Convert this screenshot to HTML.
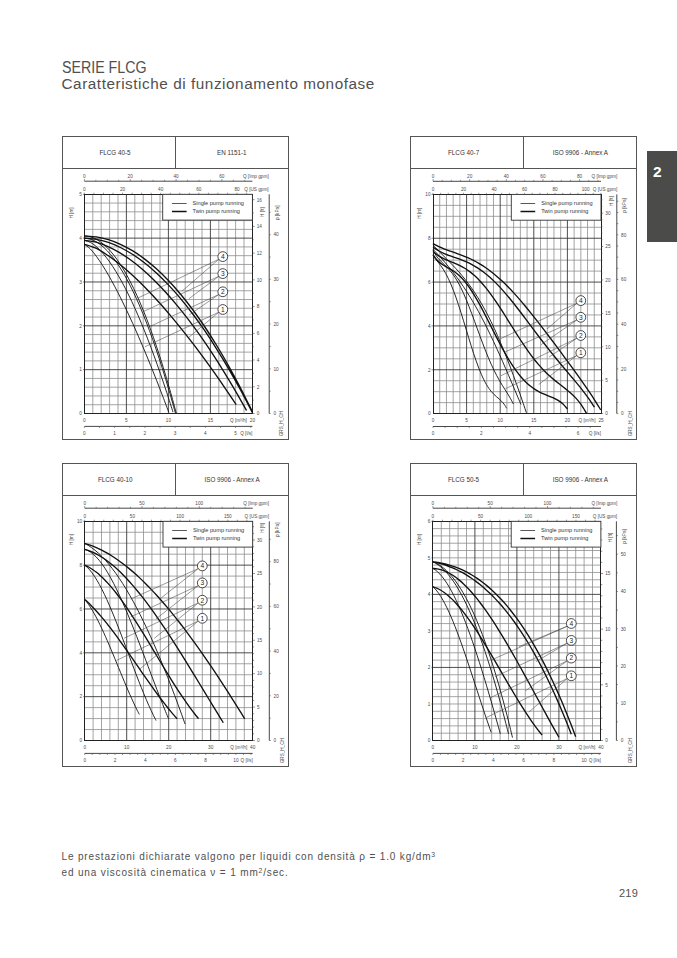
<!DOCTYPE html>
<html><head><meta charset="utf-8">
<style>
html,body{margin:0;padding:0;background:#fff;}
body{width:677px;height:958px;position:relative;overflow:hidden;font-family:"Liberation Sans",sans-serif;}
.t{position:absolute;white-space:nowrap;color:#505050;}
svg{position:absolute;left:0;top:0;}
svg text{font-family:"Liberation Sans",sans-serif;}
</style></head><body>
<div class="t" id="h1" style="left:61.5px;top:60.3px;font-size:15.8px;line-height:16px;letter-spacing:0px;transform:scaleX(0.9);transform-origin:0 0;">SERIE FLCG</div>
<div class="t" id="h2" style="left:61.5px;top:76px;font-size:15.3px;line-height:16px;letter-spacing:0.55px;">Caratteristiche di funzionamento monofase</div>
<div class="t" id="p1" style="left:61.5px;top:849px;font-size:10px;line-height:16px;letter-spacing:0.85px;">Le prestazioni dichiarate valgono per liquidi con densità ρ = 1.0 kg/dm<sup style="font-size:6.8px;vertical-align:3.5px;line-height:0">3</sup></div>
<div class="t" id="p2" style="left:61.5px;top:865px;font-size:10px;line-height:16px;letter-spacing:0.85px;">ed una viscosità cinematica ν = 1 mm<sup style="font-size:6.8px;vertical-align:3.5px;line-height:0">2</sup>/sec.</div>
<div class="t" id="pg" style="left:619px;top:885.5px;font-size:11px;line-height:14px;letter-spacing:0.2px;">219</div>
<div style="position:absolute;left:647px;top:151px;width:30px;height:90.5px;background:#4b4b49;"></div>
<div class="t" style="left:653px;top:164px;font-size:15.5px;line-height:16px;font-weight:bold;color:#fff;">2</div>
<svg width="677" height="958" viewBox="0 0 677 958">
<rect x="62.5" y="136.5" width="226" height="303" fill="none" stroke="#555" stroke-width="1"/>
<line x1="62.5" y1="168.5" x2="288.5" y2="168.5" stroke="#555" stroke-width="1"/>
<line x1="175.5" y1="136.5" x2="175.5" y2="168.5" stroke="#555" stroke-width="1"/>
<text x="115" y="154.5" font-size="6.3" text-anchor="middle" fill="#333">FLCG 40-5</text>
<text x="231.8" y="154.5" font-size="6.3" text-anchor="middle" fill="#333">EN 1151-1</text>
<path d="M92.8 194.3V413.5M101.2 194.3V413.5M109.6 194.3V413.5M118 194.3V413.5M134.8 194.3V413.5M143.2 194.3V413.5M151.6 194.3V413.5M160 194.3V413.5M176.8 194.3V413.5M185.2 194.3V413.5M193.6 194.3V413.5M202 194.3V413.5M218.8 194.3V413.5M227.2 194.3V413.5M235.6 194.3V413.5M244 194.3V413.5M84.4 404.73H252.4M84.4 395.96H252.4M84.4 387.2H252.4M84.4 378.43H252.4M84.4 360.89H252.4M84.4 352.12H252.4M84.4 343.36H252.4M84.4 334.59H252.4M84.4 317.05H252.4M84.4 308.28H252.4M84.4 299.52H252.4M84.4 290.75H252.4M84.4 273.21H252.4M84.4 264.44H252.4M84.4 255.68H252.4M84.4 246.91H252.4M84.4 229.37H252.4M84.4 220.6H252.4M84.4 211.84H252.4M84.4 203.07H252.4" stroke="#8e8e8e" stroke-width="0.8" fill="none"/>
<path d="M126.4 194.3V413.5M168.4 194.3V413.5M210.4 194.3V413.5M84.4 369.66H252.4M84.4 325.82H252.4M84.4 281.98H252.4M84.4 238.14H252.4" stroke="#3a3a3a" stroke-width="0.9" fill="none"/>
<rect x="84.5" y="194.5" width="168" height="219" fill="none" stroke="#222" stroke-width="1"/>
<rect x="162.7" y="194.3" width="89.7" height="25.8" fill="#fff" stroke="#333" stroke-width="0.9"/>
<line x1="171.9" y1="203.5" x2="186.6" y2="203.5" stroke="#222" stroke-width="0.75"/>
<line x1="171.9" y1="211.5" x2="186.6" y2="211.5" stroke="#111" stroke-width="1.5"/>
<text x="192.6" y="204.9" font-size="5.6" fill="#333">Single pump running</text>
<text x="192.6" y="212.5" font-size="5.6" fill="#333">Twin pump running</text>
<line x1="84.4" y1="181.2" x2="252.4" y2="181.2" stroke="#333" stroke-width="0.9"/>
<path d="M84.4 181.2V179M95.86 181.2V179.8M107.31 181.2V179.8M118.77 181.2V179.8M130.22 181.2V179M141.68 181.2V179.8M153.14 181.2V179.8M164.59 181.2V179.8M176.05 181.2V179M187.51 181.2V179.8M198.96 181.2V179.8M210.42 181.2V179.8M221.87 181.2V179M233.33 181.2V179.8M244.79 181.2V179.8" stroke="#555" stroke-width="0.6" fill="none"/>
<text x="84.4" y="177.7" font-size="4.7" text-anchor="middle" fill="#4a4a4a">0</text>
<text x="130.22" y="177.7" font-size="4.7" text-anchor="middle" fill="#4a4a4a">20</text>
<text x="176.05" y="177.7" font-size="4.7" text-anchor="middle" fill="#4a4a4a">40</text>
<text x="221.87" y="177.7" font-size="4.7" text-anchor="middle" fill="#4a4a4a">60</text>
<text x="268.7" y="177.7" font-size="4.7" text-anchor="end" fill="#4a4a4a">Q [Imp gpm]</text>
<path d="M84.4 194.3V192.7M93.94 194.3V192.7M103.48 194.3V192.7M113.02 194.3V192.7M122.56 194.3V192.7M132.1 194.3V192.7M141.64 194.3V192.7M151.17 194.3V192.7M160.71 194.3V192.7M170.25 194.3V192.7M179.79 194.3V192.7M189.33 194.3V192.7M198.87 194.3V192.7M208.41 194.3V192.7M217.95 194.3V192.7M227.49 194.3V192.7M237.03 194.3V192.7M246.57 194.3V192.7" stroke="#555" stroke-width="0.6" fill="none"/>
<text x="84.4" y="190.7" font-size="4.7" text-anchor="middle" fill="#4a4a4a">0</text>
<text x="122.56" y="190.7" font-size="4.7" text-anchor="middle" fill="#4a4a4a">20</text>
<text x="160.71" y="190.7" font-size="4.7" text-anchor="middle" fill="#4a4a4a">40</text>
<text x="198.87" y="190.7" font-size="4.7" text-anchor="middle" fill="#4a4a4a">60</text>
<text x="237.03" y="190.7" font-size="4.7" text-anchor="middle" fill="#4a4a4a">80</text>
<text x="268.7" y="190.7" font-size="4.7" text-anchor="end" fill="#4a4a4a">Q [US gpm]</text>
<text x="81.9" y="371.46" font-size="4.7" text-anchor="end" fill="#4a4a4a">1</text>
<line x1="82.9" y1="369.66" x2="84.4" y2="369.66" stroke="#333" stroke-width="0.6"/>
<text x="81.9" y="327.62" font-size="4.7" text-anchor="end" fill="#4a4a4a">2</text>
<line x1="82.9" y1="325.82" x2="84.4" y2="325.82" stroke="#333" stroke-width="0.6"/>
<text x="81.9" y="283.78" font-size="4.7" text-anchor="end" fill="#4a4a4a">3</text>
<line x1="82.9" y1="281.98" x2="84.4" y2="281.98" stroke="#333" stroke-width="0.6"/>
<text x="81.9" y="239.94" font-size="4.7" text-anchor="end" fill="#4a4a4a">4</text>
<line x1="82.9" y1="238.14" x2="84.4" y2="238.14" stroke="#333" stroke-width="0.6"/>
<text x="81.9" y="196.1" font-size="4.7" text-anchor="end" fill="#4a4a4a">5</text>
<line x1="82.9" y1="194.3" x2="84.4" y2="194.3" stroke="#333" stroke-width="0.6"/>
<text transform="translate(72.6 213) rotate(-90)" font-size="4.7" text-anchor="middle" fill="#4a4a4a">H [m]</text>
<path d="M252.4 413.5H254.6M252.4 400.14H253.8M252.4 386.78H254.6M252.4 373.41H253.8M252.4 360.05H254.6M252.4 346.69H253.8M252.4 333.33H254.6M252.4 319.96H253.8M252.4 306.6H254.6M252.4 293.24H253.8M252.4 279.88H254.6M252.4 266.51H253.8M252.4 253.15H254.6M252.4 239.79H253.8M252.4 226.43H254.6M252.4 213.06H253.8M252.4 199.7H254.6" stroke="#444" stroke-width="0.6" fill="none"/>
<text x="256.7" y="415.3" font-size="4.7" fill="#4a4a4a">0</text>
<text x="256.7" y="388.58" font-size="4.7" fill="#4a4a4a">2</text>
<text x="256.7" y="361.85" font-size="4.7" fill="#4a4a4a">4</text>
<text x="256.7" y="335.13" font-size="4.7" fill="#4a4a4a">6</text>
<text x="256.7" y="308.4" font-size="4.7" fill="#4a4a4a">8</text>
<text x="256.7" y="281.68" font-size="4.7" fill="#4a4a4a">10</text>
<text x="256.7" y="254.95" font-size="4.7" fill="#4a4a4a">12</text>
<text x="256.7" y="228.23" font-size="4.7" fill="#4a4a4a">14</text>
<text x="256.7" y="201.5" font-size="4.7" fill="#4a4a4a">16</text>
<text transform="translate(263.9 212.1) rotate(-90)" font-size="4.7" text-anchor="middle" fill="#4a4a4a">H [ft]</text>
<line x1="269.2" y1="194.3" x2="269.2" y2="413.5" stroke="#333" stroke-width="0.9"/>
<path d="M269.2 413.5H270.7M269.2 391.15H270.7M269.2 368.8H270.7M269.2 346.44H270.7M269.2 324.09H270.7M269.2 301.74H270.7M269.2 279.39H270.7M269.2 257.03H270.7M269.2 234.68H270.7M269.2 212.33H270.7" stroke="#444" stroke-width="0.6" fill="none"/>
<text x="273.5" y="415.3" font-size="4.7" fill="#4a4a4a">0</text>
<text x="273.5" y="370.6" font-size="4.7" fill="#4a4a4a">10</text>
<text x="273.5" y="325.89" font-size="4.7" fill="#4a4a4a">20</text>
<text x="273.5" y="281.19" font-size="4.7" fill="#4a4a4a">30</text>
<text x="273.5" y="236.48" font-size="4.7" fill="#4a4a4a">40</text>
<text transform="translate(278.7 212.8) rotate(-90)" font-size="4.7" text-anchor="middle" fill="#4a4a4a">p [kPa]</text>
<text x="84.4" y="421.8" font-size="4.7" text-anchor="middle" fill="#4a4a4a">0</text>
<text x="126.4" y="421.8" font-size="4.7" text-anchor="middle" fill="#4a4a4a">5</text>
<text x="168.4" y="421.8" font-size="4.7" text-anchor="middle" fill="#4a4a4a">10</text>
<text x="210.4" y="421.8" font-size="4.7" text-anchor="middle" fill="#4a4a4a">15</text>
<text x="252.4" y="421.8" font-size="4.7" text-anchor="middle" fill="#4a4a4a">20</text>
<text x="246.9" y="421.8" font-size="4.7" text-anchor="end" fill="#4a4a4a">Q [m³/h]</text>
<text x="81.9" y="415.3" font-size="4.7" text-anchor="end" fill="#4a4a4a">0</text>
<line x1="84.4" y1="426.4" x2="252.4" y2="426.4" stroke="#333" stroke-width="0.9"/>
<path d="M84.4 426.4V428M99.52 426.4V428M114.64 426.4V428M129.76 426.4V428M144.88 426.4V428M160 426.4V428M175.12 426.4V428M190.24 426.4V428M205.36 426.4V428M220.48 426.4V428M235.6 426.4V428M250.72 426.4V428" stroke="#555" stroke-width="0.6" fill="none"/>
<text x="84.4" y="435" font-size="4.7" text-anchor="middle" fill="#4a4a4a">0</text>
<text x="114.64" y="435" font-size="4.7" text-anchor="middle" fill="#4a4a4a">1</text>
<text x="144.88" y="435" font-size="4.7" text-anchor="middle" fill="#4a4a4a">2</text>
<text x="175.12" y="435" font-size="4.7" text-anchor="middle" fill="#4a4a4a">3</text>
<text x="205.36" y="435" font-size="4.7" text-anchor="middle" fill="#4a4a4a">4</text>
<text x="235.6" y="435" font-size="4.7" text-anchor="middle" fill="#4a4a4a">5</text>
<text x="252.4" y="435" font-size="4.7" text-anchor="end" fill="#4a4a4a">Q [l/s]</text>
<text transform="translate(283.3 436.2) rotate(-90)" font-size="4.6" fill="#4a4a4a">GRS_H_CH</text>
<path d="M84.4 244.28 C85.41 245.07 88.42 247.02 90.43 249.04 C92.44 251.07 94.45 253.72 96.46 256.43 C98.47 259.14 100.48 262.15 102.49 265.29 C104.5 268.42 106.51 271.78 108.52 275.26 C110.53 278.73 112.54 282.38 114.55 286.15 C116.56 289.91 118.57 293.82 120.58 297.83 C122.59 301.84 124.6 305.98 126.61 310.22 C128.62 314.45 130.63 318.81 132.64 323.24 C134.65 327.68 136.66 332.23 138.67 336.85 C140.68 341.48 142.69 346.2 144.7 351 C146.71 355.81 148.72 360.7 150.73 365.66 C152.74 370.62 154.75 375.67 156.76 380.79 C158.77 385.91 160.78 391.1 162.79 396.37 C164.8 401.63 167.82 409.7 168.82 412.37 M84.4 240.33 C85.46 240.7 88.62 241.39 90.73 242.54 C92.84 243.69 94.95 245.37 97.06 247.26 C99.17 249.15 101.28 251.39 103.39 253.86 C105.5 256.33 107.61 259.09 109.72 262.08 C111.83 265.06 113.94 268.31 116.05 271.76 C118.16 275.21 120.27 278.9 122.38 282.79 C124.49 286.67 126.6 290.78 128.71 295.08 C130.82 299.38 132.93 303.89 135.04 308.58 C137.15 313.27 139.26 318.15 141.37 323.22 C143.48 328.28 145.59 333.53 147.7 338.95 C149.81 344.37 151.92 349.98 154.03 355.75 C156.14 361.52 158.25 367.46 160.36 373.57 C162.47 379.67 164.58 385.95 166.69 392.38 C168.8 398.81 171.97 408.86 173.02 412.15 M84.4 238.14 C85.49 238.33 88.74 238.58 90.91 239.3 C93.08 240.03 95.25 241.12 97.42 242.49 C99.59 243.86 101.76 245.55 103.93 247.53 C106.1 249.51 108.27 251.8 110.44 254.37 C112.61 256.93 114.78 259.79 116.95 262.93 C119.12 266.07 121.29 269.5 123.46 273.2 C125.63 276.9 127.8 280.88 129.97 285.13 C132.14 289.38 134.31 293.9 136.48 298.7 C138.65 303.49 140.82 308.55 142.99 313.88 C145.16 319.21 147.33 324.81 149.5 330.67 C151.67 336.53 153.84 342.66 156.01 349.04 C158.18 355.42 160.35 362.07 162.52 368.98 C164.69 375.88 166.86 383.05 169.03 390.47 C171.2 397.89 174.46 409.66 175.54 413.5 M84.4 235.95 C85.5 236.12 88.78 236.32 90.97 236.98 C93.16 237.65 95.35 238.65 97.54 239.94 C99.73 241.24 101.92 242.85 104.11 244.75 C106.3 246.66 108.49 248.87 110.68 251.38 C112.87 253.89 115.06 256.69 117.25 259.79 C119.44 262.89 121.63 266.29 123.82 269.97 C126.01 273.66 128.2 277.63 130.39 281.9 C132.58 286.17 134.77 290.73 136.96 295.57 C139.15 300.41 141.34 305.55 143.53 310.96 C145.72 316.38 147.91 322.09 150.1 328.07 C152.29 334.06 154.48 340.33 156.67 346.89 C158.86 353.44 161.05 360.28 163.24 367.4 C165.43 374.52 167.62 381.93 169.81 389.61 C172 397.29 175.28 409.52 176.38 413.5" stroke="#111" stroke-width="0.9" fill="none"/>
<path d="M84.4 244.28 C86.21 244.89 91.63 246.31 95.24 247.96 C98.86 249.61 102.47 251.86 106.08 254.2 C109.7 256.54 113.31 259.2 116.93 262 C120.54 264.8 124.15 267.84 127.77 271.02 C131.38 274.2 135 277.57 138.61 281.07 C142.22 284.57 145.84 288.24 149.45 292.03 C153.07 295.82 156.68 299.75 160.29 303.8 C163.91 307.85 167.52 312.04 171.14 316.33 C174.75 320.62 178.36 325.03 181.98 329.55 C185.59 334.06 189.21 338.69 192.82 343.41 C196.43 348.13 200.05 352.97 203.66 357.89 C207.28 362.81 210.89 367.83 214.5 372.94 C218.12 378.05 221.73 383.25 225.35 388.54 C228.96 393.83 234.38 401.98 236.19 404.67 M84.4 240.33 C86.33 240.63 92.12 241.15 95.98 242.15 C99.84 243.15 103.7 244.62 107.56 246.32 C111.42 248.02 115.28 250.07 119.14 252.36 C123 254.65 126.86 257.23 130.72 260.05 C134.58 262.88 138.44 265.97 142.3 269.28 C146.16 272.6 150.02 276.16 153.88 279.95 C157.74 283.73 161.6 287.75 165.46 291.97 C169.32 296.2 173.18 300.65 177.04 305.31 C180.9 309.96 184.76 314.83 188.62 319.9 C192.48 324.96 196.34 330.24 200.2 335.71 C204.06 341.17 207.92 346.84 211.78 352.69 C215.64 358.55 219.5 364.6 223.36 370.83 C227.22 377.07 231.08 383.49 234.94 390.1 C238.8 396.7 244.59 407.06 246.52 410.46 M84.4 238.14 C86.4 238.33 92.4 238.58 96.4 239.3 C100.4 240.02 104.4 241.1 108.4 242.47 C112.4 243.83 116.4 245.52 120.4 247.49 C124.4 249.46 128.4 251.73 132.4 254.29 C136.4 256.84 140.4 259.69 144.4 262.82 C148.4 265.94 152.4 269.35 156.4 273.03 C160.4 276.71 164.4 280.67 168.4 284.9 C172.4 289.13 176.4 293.64 180.4 298.41 C184.4 303.18 188.4 308.22 192.4 313.53 C196.4 318.83 200.4 324.4 204.4 330.23 C208.4 336.06 212.4 342.16 216.4 348.52 C220.4 354.87 224.4 361.49 228.4 368.36 C232.4 375.23 236.4 382.36 240.4 389.75 C244.4 397.13 250.4 408.85 252.4 412.67 M84.4 235.95 C86.4 236.11 92.4 236.27 96.4 236.89 C100.4 237.52 104.4 238.45 108.4 239.68 C112.4 240.91 116.4 242.44 120.4 244.27 C124.4 246.1 128.4 248.24 132.4 250.66 C136.4 253.09 140.4 255.82 144.4 258.84 C148.4 261.86 152.4 265.18 156.4 268.79 C160.4 272.4 164.4 276.31 168.4 280.51 C172.4 284.71 176.4 289.21 180.4 294 C184.4 298.79 188.4 303.87 192.4 309.25 C196.4 314.62 200.4 320.29 204.4 326.25 C208.4 332.21 212.4 338.46 216.4 345.01 C220.4 351.55 224.4 358.39 228.4 365.51 C232.4 372.64 236.4 380.05 240.4 387.76 C244.4 395.47 250.4 407.76 252.4 411.76" stroke="#111" stroke-width="1.35" fill="none"/>
<line x1="218.8" y1="259.3" x2="138.1" y2="298" stroke="#444" stroke-width="0.55"/>
<line x1="218.8" y1="259.3" x2="181.7" y2="291.4" stroke="#444" stroke-width="0.55"/>
<line x1="218.8" y1="276.3" x2="144" y2="311.3" stroke="#444" stroke-width="0.55"/>
<line x1="218.8" y1="276.3" x2="189" y2="298.7" stroke="#444" stroke-width="0.55"/>
<line x1="218.8" y1="294.5" x2="149.2" y2="326.8" stroke="#444" stroke-width="0.55"/>
<line x1="218.8" y1="294.5" x2="189.1" y2="315" stroke="#444" stroke-width="0.55"/>
<line x1="218.8" y1="312.2" x2="144.8" y2="346.8" stroke="#444" stroke-width="0.55"/>
<line x1="218.8" y1="312.2" x2="189.1" y2="337.1" stroke="#444" stroke-width="0.55"/>
<circle cx="222.8" cy="256.6" r="4.9" fill="#fff" stroke="#2a2a2a" stroke-width="0.85"/>
<text x="222.8" y="258.95" font-size="6.6" text-anchor="middle" fill="#222">4</text>
<circle cx="222.8" cy="273.6" r="4.9" fill="#fff" stroke="#2a2a2a" stroke-width="0.85"/>
<text x="222.8" y="275.95" font-size="6.6" text-anchor="middle" fill="#222">3</text>
<circle cx="222.8" cy="291.8" r="4.9" fill="#fff" stroke="#2a2a2a" stroke-width="0.85"/>
<text x="222.8" y="294.15" font-size="6.6" text-anchor="middle" fill="#222">2</text>
<circle cx="222.8" cy="309.5" r="4.9" fill="#fff" stroke="#2a2a2a" stroke-width="0.85"/>
<text x="222.8" y="311.85" font-size="6.6" text-anchor="middle" fill="#222">1</text>
<rect x="410.5" y="136.5" width="226" height="303" fill="none" stroke="#555" stroke-width="1"/>
<line x1="410.5" y1="168.5" x2="636.5" y2="168.5" stroke="#555" stroke-width="1"/>
<line x1="523.5" y1="136.5" x2="523.5" y2="168.5" stroke="#555" stroke-width="1"/>
<text x="463.6" y="154.6" font-size="6.3" text-anchor="middle" fill="#333">FLCG 40-7</text>
<text x="580.4" y="154.6" font-size="6.3" text-anchor="middle" fill="#333">ISO 9906 - Annex A</text>
<path d="M439.72 194.4V413.6M446.44 194.4V413.6M453.16 194.4V413.6M459.88 194.4V413.6M473.32 194.4V413.6M480.04 194.4V413.6M486.76 194.4V413.6M493.48 194.4V413.6M506.92 194.4V413.6M513.64 194.4V413.6M520.36 194.4V413.6M527.08 194.4V413.6M540.52 194.4V413.6M547.24 194.4V413.6M553.96 194.4V413.6M560.68 194.4V413.6M574.12 194.4V413.6M580.84 194.4V413.6M587.56 194.4V413.6M594.28 194.4V413.6M433 402.64H601M433 391.68H601M433 380.72H601M433 358.8H601M433 347.84H601M433 336.88H601M433 314.96H601M433 304H601M433 293.04H601M433 271.12H601M433 260.16H601M433 249.2H601M433 227.28H601M433 216.32H601M433 205.36H601" stroke="#8e8e8e" stroke-width="0.8" fill="none"/>
<path d="M466.6 194.4V413.6M500.2 194.4V413.6M533.8 194.4V413.6M567.4 194.4V413.6M433 369.76H601M433 325.92H601M433 282.08H601M433 238.24H601" stroke="#3a3a3a" stroke-width="0.9" fill="none"/>
<rect x="433.5" y="194.5" width="168" height="219" fill="none" stroke="#222" stroke-width="1"/>
<rect x="511.3" y="194.4" width="89.7" height="25.8" fill="#fff" stroke="#333" stroke-width="0.9"/>
<line x1="520.5" y1="203.5" x2="535.2" y2="203.5" stroke="#222" stroke-width="0.75"/>
<line x1="520.5" y1="211.5" x2="535.2" y2="211.5" stroke="#111" stroke-width="1.5"/>
<text x="541.2" y="205" font-size="5.6" fill="#333">Single pump running</text>
<text x="541.2" y="212.6" font-size="5.6" fill="#333">Twin pump running</text>
<line x1="433" y1="181.3" x2="601" y2="181.3" stroke="#333" stroke-width="0.9"/>
<path d="M433 181.3V179.1M442.16 181.3V179.9M451.33 181.3V179.9M460.49 181.3V179.9M469.66 181.3V179.1M478.82 181.3V179.9M487.99 181.3V179.9M497.15 181.3V179.9M506.32 181.3V179.1M515.48 181.3V179.9M524.65 181.3V179.9M533.81 181.3V179.9M542.98 181.3V179.1M552.14 181.3V179.9M561.31 181.3V179.9M570.47 181.3V179.9M579.64 181.3V179.1M588.8 181.3V179.9M597.97 181.3V179.9" stroke="#555" stroke-width="0.6" fill="none"/>
<text x="433" y="177.8" font-size="4.7" text-anchor="middle" fill="#4a4a4a">0</text>
<text x="469.66" y="177.8" font-size="4.7" text-anchor="middle" fill="#4a4a4a">20</text>
<text x="506.32" y="177.8" font-size="4.7" text-anchor="middle" fill="#4a4a4a">40</text>
<text x="542.98" y="177.8" font-size="4.7" text-anchor="middle" fill="#4a4a4a">60</text>
<text x="579.64" y="177.8" font-size="4.7" text-anchor="middle" fill="#4a4a4a">80</text>
<text x="617.3" y="177.8" font-size="4.7" text-anchor="end" fill="#4a4a4a">Q [Imp gpm]</text>
<path d="M433 194.4V192.8M440.63 194.4V192.8M448.26 194.4V192.8M455.89 194.4V192.8M463.53 194.4V192.8M471.16 194.4V192.8M478.79 194.4V192.8M486.42 194.4V192.8M494.05 194.4V192.8M501.68 194.4V192.8M509.31 194.4V192.8M516.95 194.4V192.8M524.58 194.4V192.8M532.21 194.4V192.8M539.84 194.4V192.8M547.47 194.4V192.8M555.1 194.4V192.8M562.73 194.4V192.8M570.37 194.4V192.8M578 194.4V192.8M585.63 194.4V192.8M593.26 194.4V192.8M600.89 194.4V192.8" stroke="#555" stroke-width="0.6" fill="none"/>
<text x="433" y="190.8" font-size="4.7" text-anchor="middle" fill="#4a4a4a">0</text>
<text x="463.53" y="190.8" font-size="4.7" text-anchor="middle" fill="#4a4a4a">20</text>
<text x="494.05" y="190.8" font-size="4.7" text-anchor="middle" fill="#4a4a4a">40</text>
<text x="524.58" y="190.8" font-size="4.7" text-anchor="middle" fill="#4a4a4a">60</text>
<text x="555.1" y="190.8" font-size="4.7" text-anchor="middle" fill="#4a4a4a">80</text>
<text x="585.63" y="190.8" font-size="4.7" text-anchor="middle" fill="#4a4a4a">100</text>
<text x="617.3" y="190.8" font-size="4.7" text-anchor="end" fill="#4a4a4a">Q [US gpm]</text>
<text x="430.5" y="371.56" font-size="4.7" text-anchor="end" fill="#4a4a4a">2</text>
<line x1="431.5" y1="369.76" x2="433" y2="369.76" stroke="#333" stroke-width="0.6"/>
<text x="430.5" y="327.72" font-size="4.7" text-anchor="end" fill="#4a4a4a">4</text>
<line x1="431.5" y1="325.92" x2="433" y2="325.92" stroke="#333" stroke-width="0.6"/>
<text x="430.5" y="283.88" font-size="4.7" text-anchor="end" fill="#4a4a4a">6</text>
<line x1="431.5" y1="282.08" x2="433" y2="282.08" stroke="#333" stroke-width="0.6"/>
<text x="430.5" y="240.04" font-size="4.7" text-anchor="end" fill="#4a4a4a">8</text>
<line x1="431.5" y1="238.24" x2="433" y2="238.24" stroke="#333" stroke-width="0.6"/>
<text x="430.5" y="196.2" font-size="4.7" text-anchor="end" fill="#4a4a4a">10</text>
<line x1="431.5" y1="194.4" x2="433" y2="194.4" stroke="#333" stroke-width="0.6"/>
<text transform="translate(421.2 213.2) rotate(-90)" font-size="4.7" text-anchor="middle" fill="#4a4a4a">H [m]</text>
<path d="M601 413.6H603.2M601 406.92H602.4M601 400.24H602.4M601 393.56H602.4M601 386.88H602.4M601 380.19H603.2M601 373.51H602.4M601 366.83H602.4M601 360.15H602.4M601 353.47H602.4M601 346.79H603.2M601 340.11H602.4M601 333.43H602.4M601 326.74H602.4M601 320.06H602.4M601 313.38H603.2M601 306.7H602.4M601 300.02H602.4M601 293.34H602.4M601 286.66H602.4M601 279.98H603.2M601 273.29H602.4M601 266.61H602.4M601 259.93H602.4M601 253.25H602.4M601 246.57H603.2M601 239.89H602.4M601 233.21H602.4M601 226.53H602.4M601 219.84H602.4M601 213.16H603.2M601 206.48H602.4M601 199.8H602.4" stroke="#444" stroke-width="0.6" fill="none"/>
<text x="605.3" y="415.4" font-size="4.7" fill="#4a4a4a">0</text>
<text x="605.3" y="381.99" font-size="4.7" fill="#4a4a4a">5</text>
<text x="605.3" y="348.59" font-size="4.7" fill="#4a4a4a">10</text>
<text x="605.3" y="315.18" font-size="4.7" fill="#4a4a4a">15</text>
<text x="605.3" y="281.78" font-size="4.7" fill="#4a4a4a">20</text>
<text x="605.3" y="248.37" font-size="4.7" fill="#4a4a4a">25</text>
<text x="605.3" y="214.96" font-size="4.7" fill="#4a4a4a">30</text>
<text transform="translate(612.5 201) rotate(-90)" font-size="4.7" text-anchor="middle" fill="#4a4a4a">H [ft]</text>
<line x1="616.8" y1="194.4" x2="616.8" y2="413.6" stroke="#333" stroke-width="0.9"/>
<path d="M616.8 413.6H618.3M616.8 402.42H618.3M616.8 391.25H618.3M616.8 380.07H618.3M616.8 368.9H618.3M616.8 357.72H618.3M616.8 346.54H618.3M616.8 335.37H618.3M616.8 324.19H618.3M616.8 313.02H618.3M616.8 301.84H618.3M616.8 290.66H618.3M616.8 279.49H618.3M616.8 268.31H618.3M616.8 257.13H618.3M616.8 245.96H618.3M616.8 234.78H618.3M616.8 223.61H618.3M616.8 212.43H618.3M616.8 201.25H618.3" stroke="#444" stroke-width="0.6" fill="none"/>
<text x="621.1" y="415.4" font-size="4.7" fill="#4a4a4a">0</text>
<text x="621.1" y="370.7" font-size="4.7" fill="#4a4a4a">20</text>
<text x="621.1" y="325.99" font-size="4.7" fill="#4a4a4a">40</text>
<text x="621.1" y="281.29" font-size="4.7" fill="#4a4a4a">60</text>
<text x="621.1" y="236.58" font-size="4.7" fill="#4a4a4a">80</text>
<text transform="translate(626.3 205.4) rotate(-90)" font-size="4.7" text-anchor="middle" fill="#4a4a4a">p [kPa]</text>
<text x="433" y="421.9" font-size="4.7" text-anchor="middle" fill="#4a4a4a">0</text>
<text x="466.6" y="421.9" font-size="4.7" text-anchor="middle" fill="#4a4a4a">5</text>
<text x="500.2" y="421.9" font-size="4.7" text-anchor="middle" fill="#4a4a4a">10</text>
<text x="533.8" y="421.9" font-size="4.7" text-anchor="middle" fill="#4a4a4a">15</text>
<text x="567.4" y="421.9" font-size="4.7" text-anchor="middle" fill="#4a4a4a">20</text>
<text x="601" y="421.9" font-size="4.7" text-anchor="middle" fill="#4a4a4a">25</text>
<text x="595.5" y="421.9" font-size="4.7" text-anchor="end" fill="#4a4a4a">Q [m³/h]</text>
<text x="430.5" y="415.4" font-size="4.7" text-anchor="end" fill="#4a4a4a">0</text>
<line x1="433" y1="426.5" x2="601" y2="426.5" stroke="#333" stroke-width="0.9"/>
<path d="M433 426.5V428.1M445.1 426.5V428.1M457.19 426.5V428.1M469.29 426.5V428.1M481.38 426.5V428.1M493.48 426.5V428.1M505.58 426.5V428.1M517.67 426.5V428.1M529.77 426.5V428.1M541.86 426.5V428.1M553.96 426.5V428.1M566.06 426.5V428.1M578.15 426.5V428.1M590.25 426.5V428.1" stroke="#555" stroke-width="0.6" fill="none"/>
<text x="433" y="435.1" font-size="4.7" text-anchor="middle" fill="#4a4a4a">0</text>
<text x="481.38" y="435.1" font-size="4.7" text-anchor="middle" fill="#4a4a4a">2</text>
<text x="529.77" y="435.1" font-size="4.7" text-anchor="middle" fill="#4a4a4a">4</text>
<text x="578.15" y="435.1" font-size="4.7" text-anchor="middle" fill="#4a4a4a">6</text>
<text x="601" y="435.1" font-size="4.7" text-anchor="end" fill="#4a4a4a">Q [l/s]</text>
<text transform="translate(631.9 436.3) rotate(-90)" font-size="4.6" fill="#4a4a4a">GRS_H_CH</text>
<path d="M433 255.77 C433.42 256.31 434.69 257.96 435.54 259.02 C436.39 260.09 437.24 261.08 438.08 262.15 C438.93 263.23 439.78 264.3 440.63 265.47 C441.47 266.64 442.32 267.85 443.17 269.18 C444.02 270.51 444.86 271.91 445.71 273.44 C446.56 274.97 447.4 276.6 448.25 278.36 C449.1 280.11 449.95 281.98 450.79 283.96 C451.64 285.94 452.49 288.04 453.34 290.24 C454.18 292.44 455.03 294.76 455.88 297.15 C456.73 299.55 457.57 302.06 458.42 304.62 C459.27 307.18 460.11 309.84 460.96 312.52 C461.81 315.21 462.66 317.97 463.5 320.73 C464.35 323.5 465.2 326.31 466.05 329.11 C466.89 331.9 467.74 334.72 468.59 337.48 C469.44 340.25 470.28 343.02 471.13 345.71 C471.98 348.4 472.82 351.06 473.67 353.63 C474.52 356.19 475.37 358.7 476.21 361.1 C477.06 363.5 477.91 365.81 478.76 368 C479.6 370.19 480.45 372.28 481.3 374.24 C482.15 376.2 482.99 378.03 483.84 379.74 C484.69 381.44 485.53 383.02 486.38 384.47 C487.23 385.92 488.08 387.23 488.92 388.44 C489.77 389.65 490.62 390.73 491.47 391.72 C492.31 392.72 493.16 393.59 494.01 394.43 C494.86 395.27 495.7 396 496.55 396.75 C497.4 397.5 498.25 398.17 499.09 398.93 C499.94 399.69 500.79 400.41 501.63 401.3 C502.48 402.19 503.33 403.09 504.18 404.27 C505.02 405.44 506.29 407.67 506.72 408.34 M433 250.3 C433.46 251.1 434.85 253.69 435.77 255.1 C436.7 256.51 437.62 257.65 438.54 258.75 C439.47 259.86 440.39 260.79 441.31 261.73 C442.24 262.68 443.16 263.52 444.09 264.43 C445.01 265.33 445.93 266.2 446.86 267.15 C447.78 268.1 448.7 269.07 449.63 270.14 C450.55 271.21 451.48 272.34 452.4 273.57 C453.32 274.81 454.25 276.13 455.17 277.56 C456.1 279 457.02 280.53 457.94 282.17 C458.87 283.82 459.79 285.57 460.71 287.42 C461.64 289.27 462.56 291.23 463.49 293.27 C464.41 295.32 465.33 297.47 466.26 299.68 C467.18 301.9 468.1 304.21 469.03 306.56 C469.95 308.91 470.88 311.35 471.8 313.8 C472.72 316.25 473.65 318.77 474.57 321.28 C475.5 323.79 476.42 326.35 477.34 328.88 C478.27 331.4 479.19 333.95 480.11 336.45 C481.04 338.95 481.96 341.45 482.89 343.88 C483.81 346.32 484.73 348.73 485.66 351.06 C486.58 353.39 487.5 355.68 488.43 357.88 C489.35 360.08 490.28 362.22 491.2 364.27 C492.12 366.32 493.05 368.29 493.97 370.18 C494.9 372.08 495.82 373.88 496.74 375.62 C497.67 377.36 498.59 379.01 499.51 380.61 C500.44 382.22 501.36 383.74 502.29 385.25 C503.21 386.76 504.13 388.19 505.06 389.66 C505.98 391.13 506.9 392.55 507.83 394.06 C508.75 395.57 509.68 397.07 510.6 398.72 C511.52 400.37 512.91 403.1 513.37 403.98 M433 249.19 C433.51 249.74 435.02 251.36 436.03 252.45 C437.04 253.55 438.05 254.65 439.06 255.76 C440.07 256.87 441.08 258 442.09 259.14 C443.1 260.28 444.11 261.43 445.12 262.61 C446.13 263.78 447.14 264.98 448.15 266.2 C449.17 267.41 450.18 268.65 451.19 269.92 C452.2 271.18 453.21 272.47 454.22 273.79 C455.23 275.11 456.24 276.45 457.25 277.83 C458.26 279.2 459.27 280.6 460.28 282.04 C461.29 283.48 462.3 284.94 463.31 286.45 C464.32 287.95 465.33 289.48 466.34 291.05 C467.35 292.61 468.36 294.22 469.37 295.85 C470.38 297.49 471.39 299.16 472.4 300.86 C473.41 302.57 474.42 304.31 475.43 306.09 C476.44 307.86 477.45 309.67 478.46 311.52 C479.47 313.36 480.48 315.24 481.5 317.15 C482.51 319.07 483.52 321.02 484.53 323 C485.54 324.98 486.55 326.99 487.56 329.03 C488.57 331.08 489.58 333.15 490.59 335.26 C491.6 337.36 492.61 339.5 493.62 341.66 C494.63 343.82 495.64 346.01 496.65 348.22 C497.66 350.44 498.67 352.68 499.68 354.94 C500.69 357.2 501.7 359.48 502.71 361.78 C503.72 364.09 504.73 366.41 505.74 368.74 C506.75 371.08 507.76 373.43 508.77 375.79 C509.78 378.16 510.79 380.53 511.8 382.91 C512.82 385.29 513.83 387.68 514.84 390.07 C515.85 392.46 516.86 394.86 517.87 397.25 C518.88 399.64 520.39 403.21 520.9 404.41 M433 244.8 C433.54 245.39 435.15 247.19 436.22 248.34 C437.29 249.49 438.37 250.61 439.44 251.72 C440.52 252.84 441.59 253.92 442.66 255.01 C443.74 256.1 444.81 257.17 445.88 258.26 C446.96 259.34 448.03 260.42 449.1 261.51 C450.18 262.61 451.25 263.7 452.33 264.83 C453.4 265.95 454.47 267.08 455.55 268.24 C456.62 269.4 457.69 270.58 458.77 271.8 C459.84 273.01 460.92 274.25 461.99 275.54 C463.06 276.82 464.14 278.13 465.21 279.48 C466.28 280.84 467.36 282.23 468.43 283.68 C469.5 285.12 470.58 286.6 471.65 288.13 C472.73 289.67 473.8 291.25 474.87 292.88 C475.95 294.52 477.02 296.2 478.09 297.94 C479.17 299.68 480.24 301.48 481.31 303.33 C482.39 305.18 483.46 307.08 484.54 309.05 C485.61 311.01 486.68 313.03 487.76 315.11 C488.83 317.19 489.9 319.33 490.98 321.53 C492.05 323.72 493.12 325.98 494.2 328.29 C495.27 330.6 496.35 332.97 497.42 335.4 C498.49 337.83 499.57 340.31 500.64 342.85 C501.71 345.39 502.79 347.99 503.86 350.63 C504.93 353.28 506.01 355.98 507.08 358.73 C508.16 361.48 509.23 364.29 510.3 367.14 C511.38 369.98 512.45 372.88 513.52 375.82 C514.6 378.75 515.67 381.74 516.75 384.75 C517.82 387.77 518.89 390.83 519.97 393.92 C521.04 397 522.11 400.13 523.19 403.28 C524.26 406.42 525.87 411.21 526.41 412.8" stroke="#111" stroke-width="0.9" fill="none"/>
<path d="M433 254.68 C433.77 255.7 436.09 259.14 437.63 260.78 C439.18 262.41 440.72 263.42 442.27 264.48 C443.81 265.55 445.36 266.28 446.9 267.16 C448.45 268.04 449.99 268.81 451.54 269.77 C453.08 270.74 454.63 271.73 456.17 272.94 C457.72 274.15 459.26 275.49 460.81 277.04 C462.35 278.58 463.9 280.31 465.44 282.22 C466.99 284.13 468.53 286.24 470.08 288.5 C471.62 290.76 473.17 293.22 474.71 295.78 C476.26 298.35 477.8 301.09 479.34 303.89 C480.89 306.69 482.43 309.64 483.98 312.6 C485.52 315.56 487.07 318.62 488.61 321.67 C490.16 324.71 491.7 327.81 493.25 330.84 C494.79 333.88 496.34 336.94 497.88 339.9 C499.43 342.86 500.97 345.8 502.52 348.62 C504.06 351.44 505.61 354.19 507.15 356.81 C508.7 359.43 510.24 361.96 511.79 364.34 C513.33 366.71 514.88 368.97 516.42 371.08 C517.97 373.18 519.51 375.14 521.06 376.96 C522.6 378.77 524.14 380.43 525.69 381.96 C527.23 383.48 528.78 384.84 530.32 386.09 C531.87 387.33 533.41 388.42 534.96 389.41 C536.5 390.41 538.05 391.26 539.59 392.05 C541.14 392.85 542.68 393.52 544.23 394.18 C545.77 394.85 547.32 395.42 548.86 396.05 C550.41 396.68 551.95 397.25 553.5 397.98 C555.04 398.7 556.59 399.41 558.13 400.39 C559.68 401.37 561.22 402.4 562.77 403.83 C564.31 405.27 566.63 408.14 567.4 409.01 M433 251.38 C433.88 252.09 436.53 254.41 438.29 255.61 C440.06 256.8 441.82 257.67 443.59 258.54 C445.35 259.41 447.11 260.08 448.88 260.82 C450.64 261.55 452.41 262.2 454.17 262.95 C455.93 263.7 457.7 264.45 459.46 265.33 C461.23 266.21 462.99 267.15 464.76 268.24 C466.52 269.33 468.28 270.53 470.05 271.88 C471.81 273.24 473.58 274.72 475.34 276.36 C477.1 278 478.87 279.78 480.63 281.71 C482.4 283.63 484.16 285.7 485.93 287.89 C487.69 290.08 489.45 292.41 491.22 294.83 C492.98 297.25 494.75 299.8 496.51 302.41 C498.28 305.01 500.04 307.72 501.8 310.45 C503.57 313.18 505.33 316 507.1 318.79 C508.86 321.59 510.62 324.44 512.39 327.24 C514.15 330.04 515.92 332.86 517.68 335.6 C519.45 338.34 521.21 341.07 522.97 343.69 C524.74 346.32 526.5 348.89 528.27 351.36 C530.03 353.82 531.79 356.2 533.56 358.46 C535.32 360.72 537.09 362.88 538.85 364.92 C540.62 366.96 542.38 368.88 544.14 370.7 C545.91 372.52 547.67 374.21 549.44 375.82 C551.2 377.43 552.97 378.92 554.73 380.38 C556.49 381.84 558.26 383.19 560.02 384.57 C561.79 385.94 563.55 387.24 565.31 388.65 C567.08 390.06 568.84 391.43 570.61 393.02 C572.37 394.6 574.14 396.21 575.9 398.16 C577.66 400.1 579.43 402.15 581.19 404.69 C582.96 407.23 585.6 411.93 586.48 413.38 M433 247 C433.93 247.63 436.71 249.68 438.57 250.76 C440.42 251.85 442.28 252.7 444.14 253.52 C445.99 254.34 447.85 255.01 449.7 255.69 C451.56 256.38 453.42 256.98 455.27 257.64 C457.13 258.3 458.99 258.93 460.84 259.64 C462.7 260.36 464.55 261.09 466.41 261.92 C468.27 262.75 470.12 263.64 471.98 264.63 C473.83 265.63 475.69 266.7 477.55 267.89 C479.4 269.08 481.26 270.36 483.11 271.76 C484.97 273.15 486.83 274.66 488.68 276.26 C490.54 277.87 492.4 279.58 494.25 281.39 C496.11 283.19 497.96 285.11 499.82 287.1 C501.68 289.09 503.53 291.18 505.39 293.33 C507.24 295.48 509.1 297.72 510.96 300 C512.81 302.28 514.67 304.63 516.52 307.01 C518.38 309.38 520.24 311.82 522.09 314.26 C523.95 316.7 525.81 319.18 527.66 321.65 C529.52 324.12 531.37 326.61 533.23 329.09 C535.09 331.56 536.94 334.03 538.8 336.48 C540.65 338.92 542.51 341.35 544.37 343.75 C546.22 346.15 548.08 348.52 549.93 350.86 C551.79 353.2 553.65 355.5 555.5 357.78 C557.36 360.05 559.22 362.29 561.07 364.51 C562.93 366.74 564.78 368.92 566.64 371.12 C568.5 373.32 570.35 375.48 572.21 377.69 C574.06 379.89 575.92 382.08 577.78 384.35 C579.63 386.63 581.49 388.91 583.34 391.32 C585.2 393.74 587.06 396.19 588.91 398.84 C590.77 401.5 593.55 405.84 594.48 407.24 M433 243.5 C433.96 244.01 436.86 245.63 438.78 246.55 C440.71 247.47 442.64 248.25 444.57 249.02 C446.5 249.79 448.42 250.47 450.35 251.17 C452.28 251.87 454.21 252.52 456.14 253.22 C458.06 253.92 459.99 254.61 461.92 255.36 C463.85 256.11 465.78 256.89 467.7 257.74 C469.63 258.59 471.56 259.49 473.49 260.47 C475.41 261.46 477.34 262.5 479.27 263.64 C481.2 264.78 483.13 265.99 485.05 267.29 C486.98 268.59 488.91 269.98 490.84 271.46 C492.77 272.93 494.69 274.49 496.62 276.14 C498.55 277.79 500.48 279.52 502.41 281.33 C504.33 283.14 506.26 285.04 508.19 287 C510.12 288.97 512.05 291.01 513.97 293.11 C515.9 295.22 517.83 297.39 519.76 299.61 C521.69 301.84 523.61 304.12 525.54 306.45 C527.47 308.77 529.4 311.15 531.33 313.56 C533.25 315.97 535.18 318.42 537.11 320.89 C539.04 323.36 540.96 325.87 542.89 328.39 C544.82 330.91 546.75 333.45 548.68 336.01 C550.6 338.56 552.53 341.13 554.46 343.71 C556.39 346.28 558.32 348.87 560.24 351.47 C562.17 354.07 564.1 356.67 566.03 359.29 C567.96 361.9 569.88 364.52 571.81 367.17 C573.74 369.81 575.67 372.47 577.6 375.16 C579.52 377.85 581.45 380.55 583.38 383.31 C585.31 386.08 587.24 388.86 589.16 391.73 C591.09 394.6 593.02 397.5 594.95 400.53 C596.88 403.55 599.77 408.32 600.73 409.87" stroke="#111" stroke-width="1.35" fill="none"/>
<line x1="576.8" y1="303.3" x2="501" y2="338.5" stroke="#444" stroke-width="0.55"/>
<line x1="576.8" y1="303.3" x2="547" y2="329" stroke="#444" stroke-width="0.55"/>
<line x1="576.8" y1="320" x2="505" y2="352" stroke="#444" stroke-width="0.55"/>
<line x1="576.8" y1="320" x2="541" y2="344.7" stroke="#444" stroke-width="0.55"/>
<line x1="576.8" y1="338.2" x2="501" y2="375.7" stroke="#444" stroke-width="0.55"/>
<line x1="576.8" y1="338.2" x2="549" y2="357.2" stroke="#444" stroke-width="0.55"/>
<line x1="576.8" y1="355.5" x2="505.5" y2="388.7" stroke="#444" stroke-width="0.55"/>
<line x1="576.8" y1="355.5" x2="538.7" y2="384.5" stroke="#444" stroke-width="0.55"/>
<circle cx="580.8" cy="300.6" r="4.9" fill="#fff" stroke="#2a2a2a" stroke-width="0.85"/>
<text x="580.8" y="302.95" font-size="6.6" text-anchor="middle" fill="#222">4</text>
<circle cx="580.8" cy="317.3" r="4.9" fill="#fff" stroke="#2a2a2a" stroke-width="0.85"/>
<text x="580.8" y="319.65" font-size="6.6" text-anchor="middle" fill="#222">3</text>
<circle cx="580.8" cy="335.5" r="4.9" fill="#fff" stroke="#2a2a2a" stroke-width="0.85"/>
<text x="580.8" y="337.85" font-size="6.6" text-anchor="middle" fill="#222">2</text>
<circle cx="580.8" cy="352.8" r="4.9" fill="#fff" stroke="#2a2a2a" stroke-width="0.85"/>
<text x="580.8" y="355.15" font-size="6.6" text-anchor="middle" fill="#222">1</text>
<rect x="62.5" y="463.5" width="226" height="303" fill="none" stroke="#555" stroke-width="1"/>
<line x1="62.5" y1="495.5" x2="288.5" y2="495.5" stroke="#555" stroke-width="1"/>
<line x1="175.5" y1="463.5" x2="175.5" y2="495.5" stroke="#555" stroke-width="1"/>
<text x="115.3" y="481.5" font-size="6.3" text-anchor="middle" fill="#333">FLCG 40-10</text>
<text x="232.1" y="481.5" font-size="6.3" text-anchor="middle" fill="#333">ISO 9906 - Annex A</text>
<path d="M93.1 521.3V740.5M101.5 521.3V740.5M109.9 521.3V740.5M118.3 521.3V740.5M135.1 521.3V740.5M143.5 521.3V740.5M151.9 521.3V740.5M160.3 521.3V740.5M177.1 521.3V740.5M185.5 521.3V740.5M193.9 521.3V740.5M202.3 521.3V740.5M219.1 521.3V740.5M227.5 521.3V740.5M235.9 521.3V740.5M244.3 521.3V740.5M84.7 729.54H252.7M84.7 718.58H252.7M84.7 707.62H252.7M84.7 685.7H252.7M84.7 674.74H252.7M84.7 663.78H252.7M84.7 641.86H252.7M84.7 630.9H252.7M84.7 619.94H252.7M84.7 598.02H252.7M84.7 587.06H252.7M84.7 576.1H252.7M84.7 554.18H252.7M84.7 543.22H252.7M84.7 532.26H252.7" stroke="#8e8e8e" stroke-width="0.8" fill="none"/>
<path d="M126.7 521.3V740.5M168.7 521.3V740.5M210.7 521.3V740.5M84.7 696.66H252.7M84.7 652.82H252.7M84.7 608.98H252.7M84.7 565.14H252.7" stroke="#3a3a3a" stroke-width="0.9" fill="none"/>
<rect x="84.5" y="521.5" width="168" height="219" fill="none" stroke="#222" stroke-width="1"/>
<rect x="163" y="521.3" width="89.7" height="25.8" fill="#fff" stroke="#333" stroke-width="0.9"/>
<line x1="172.2" y1="530.5" x2="186.9" y2="530.5" stroke="#222" stroke-width="0.75"/>
<line x1="172.2" y1="538.5" x2="186.9" y2="538.5" stroke="#111" stroke-width="1.5"/>
<text x="192.9" y="531.9" font-size="5.6" fill="#333">Single pump running</text>
<text x="192.9" y="539.5" font-size="5.6" fill="#333">Twin pump running</text>
<line x1="84.7" y1="508.2" x2="252.7" y2="508.2" stroke="#333" stroke-width="0.9"/>
<path d="M84.7 508.2V506M96.16 508.2V506.8M107.61 508.2V506.8M119.07 508.2V506.8M130.52 508.2V506.8M141.98 508.2V506M153.44 508.2V506.8M164.89 508.2V506.8M176.35 508.2V506.8M187.81 508.2V506.8M199.26 508.2V506M210.72 508.2V506.8M222.17 508.2V506.8M233.63 508.2V506.8M245.09 508.2V506.8" stroke="#555" stroke-width="0.6" fill="none"/>
<text x="84.7" y="504.7" font-size="4.7" text-anchor="middle" fill="#4a4a4a">0</text>
<text x="141.98" y="504.7" font-size="4.7" text-anchor="middle" fill="#4a4a4a">50</text>
<text x="199.26" y="504.7" font-size="4.7" text-anchor="middle" fill="#4a4a4a">100</text>
<text x="269" y="504.7" font-size="4.7" text-anchor="end" fill="#4a4a4a">Q [Imp gpm]</text>
<path d="M84.7 521.3V519.7M94.24 521.3V519.7M103.78 521.3V519.7M113.32 521.3V519.7M122.86 521.3V519.7M132.4 521.3V519.7M141.94 521.3V519.7M151.47 521.3V519.7M161.01 521.3V519.7M170.55 521.3V519.7M180.09 521.3V519.7M189.63 521.3V519.7M199.17 521.3V519.7M208.71 521.3V519.7M218.25 521.3V519.7M227.79 521.3V519.7M237.33 521.3V519.7M246.87 521.3V519.7" stroke="#555" stroke-width="0.6" fill="none"/>
<text x="84.7" y="517.7" font-size="4.7" text-anchor="middle" fill="#4a4a4a">0</text>
<text x="132.4" y="517.7" font-size="4.7" text-anchor="middle" fill="#4a4a4a">50</text>
<text x="180.09" y="517.7" font-size="4.7" text-anchor="middle" fill="#4a4a4a">100</text>
<text x="227.79" y="517.7" font-size="4.7" text-anchor="middle" fill="#4a4a4a">150</text>
<text x="269" y="517.7" font-size="4.7" text-anchor="end" fill="#4a4a4a">Q [US gpm]</text>
<text x="82.2" y="698.46" font-size="4.7" text-anchor="end" fill="#4a4a4a">2</text>
<line x1="83.2" y1="696.66" x2="84.7" y2="696.66" stroke="#333" stroke-width="0.6"/>
<text x="82.2" y="654.62" font-size="4.7" text-anchor="end" fill="#4a4a4a">4</text>
<line x1="83.2" y1="652.82" x2="84.7" y2="652.82" stroke="#333" stroke-width="0.6"/>
<text x="82.2" y="610.78" font-size="4.7" text-anchor="end" fill="#4a4a4a">6</text>
<line x1="83.2" y1="608.98" x2="84.7" y2="608.98" stroke="#333" stroke-width="0.6"/>
<text x="82.2" y="566.94" font-size="4.7" text-anchor="end" fill="#4a4a4a">8</text>
<line x1="83.2" y1="565.14" x2="84.7" y2="565.14" stroke="#333" stroke-width="0.6"/>
<text x="82.2" y="523.1" font-size="4.7" text-anchor="end" fill="#4a4a4a">10</text>
<line x1="83.2" y1="521.3" x2="84.7" y2="521.3" stroke="#333" stroke-width="0.6"/>
<text transform="translate(72.9 539.6) rotate(-90)" font-size="4.7" text-anchor="middle" fill="#4a4a4a">H [m]</text>
<path d="M252.7 740.5H254.9M252.7 733.82H254.1M252.7 727.14H254.1M252.7 720.46H254.1M252.7 713.78H254.1M252.7 707.09H254.9M252.7 700.41H254.1M252.7 693.73H254.1M252.7 687.05H254.1M252.7 680.37H254.1M252.7 673.69H254.9M252.7 667.01H254.1M252.7 660.33H254.1M252.7 653.64H254.1M252.7 646.96H254.1M252.7 640.28H254.9M252.7 633.6H254.1M252.7 626.92H254.1M252.7 620.24H254.1M252.7 613.56H254.1M252.7 606.88H254.9M252.7 600.19H254.1M252.7 593.51H254.1M252.7 586.83H254.1M252.7 580.15H254.1M252.7 573.47H254.9M252.7 566.79H254.1M252.7 560.11H254.1M252.7 553.43H254.1M252.7 546.74H254.1M252.7 540.06H254.9M252.7 533.38H254.1M252.7 526.7H254.1" stroke="#444" stroke-width="0.6" fill="none"/>
<text x="257" y="742.3" font-size="4.7" fill="#4a4a4a">0</text>
<text x="257" y="708.89" font-size="4.7" fill="#4a4a4a">5</text>
<text x="257" y="675.49" font-size="4.7" fill="#4a4a4a">10</text>
<text x="257" y="642.08" font-size="4.7" fill="#4a4a4a">15</text>
<text x="257" y="608.68" font-size="4.7" fill="#4a4a4a">20</text>
<text x="257" y="575.27" font-size="4.7" fill="#4a4a4a">25</text>
<text x="257" y="541.86" font-size="4.7" fill="#4a4a4a">30</text>
<text transform="translate(264.2 527.9) rotate(-90)" font-size="4.7" text-anchor="middle" fill="#4a4a4a">H [ft]</text>
<line x1="269.3" y1="521.3" x2="269.3" y2="740.5" stroke="#333" stroke-width="0.9"/>
<path d="M269.3 740.5H270.8M269.3 718.15H270.8M269.3 695.8H270.8M269.3 673.44H270.8M269.3 651.09H270.8M269.3 628.74H270.8M269.3 606.39H270.8M269.3 584.03H270.8M269.3 561.68H270.8M269.3 539.33H270.8" stroke="#444" stroke-width="0.6" fill="none"/>
<text x="273.6" y="742.3" font-size="4.7" fill="#4a4a4a">0</text>
<text x="273.6" y="697.6" font-size="4.7" fill="#4a4a4a">20</text>
<text x="273.6" y="652.89" font-size="4.7" fill="#4a4a4a">40</text>
<text x="273.6" y="608.19" font-size="4.7" fill="#4a4a4a">60</text>
<text x="273.6" y="563.48" font-size="4.7" fill="#4a4a4a">80</text>
<text transform="translate(278.8 529.8) rotate(-90)" font-size="4.7" text-anchor="middle" fill="#4a4a4a">p [kPa]</text>
<text x="84.7" y="748.8" font-size="4.7" text-anchor="middle" fill="#4a4a4a">0</text>
<text x="126.7" y="748.8" font-size="4.7" text-anchor="middle" fill="#4a4a4a">10</text>
<text x="168.7" y="748.8" font-size="4.7" text-anchor="middle" fill="#4a4a4a">20</text>
<text x="210.7" y="748.8" font-size="4.7" text-anchor="middle" fill="#4a4a4a">30</text>
<text x="252.7" y="748.8" font-size="4.7" text-anchor="middle" fill="#4a4a4a">40</text>
<text x="247.2" y="748.8" font-size="4.7" text-anchor="end" fill="#4a4a4a">Q [m³/h]</text>
<text x="82.2" y="742.3" font-size="4.7" text-anchor="end" fill="#4a4a4a">0</text>
<line x1="84.7" y1="753.4" x2="252.7" y2="753.4" stroke="#333" stroke-width="0.9"/>
<path d="M84.7 753.4V755M92.26 753.4V755M99.82 753.4V755M107.38 753.4V755M114.94 753.4V755M122.5 753.4V755M130.06 753.4V755M137.62 753.4V755M145.18 753.4V755M152.74 753.4V755M160.3 753.4V755M167.86 753.4V755M175.42 753.4V755M182.98 753.4V755M190.54 753.4V755M198.1 753.4V755M205.66 753.4V755M213.22 753.4V755M220.78 753.4V755M228.34 753.4V755M235.9 753.4V755M243.46 753.4V755M251.02 753.4V755" stroke="#555" stroke-width="0.6" fill="none"/>
<text x="84.7" y="762" font-size="4.7" text-anchor="middle" fill="#4a4a4a">0</text>
<text x="114.94" y="762" font-size="4.7" text-anchor="middle" fill="#4a4a4a">2</text>
<text x="145.18" y="762" font-size="4.7" text-anchor="middle" fill="#4a4a4a">4</text>
<text x="175.42" y="762" font-size="4.7" text-anchor="middle" fill="#4a4a4a">6</text>
<text x="205.66" y="762" font-size="4.7" text-anchor="middle" fill="#4a4a4a">8</text>
<text x="235.9" y="762" font-size="4.7" text-anchor="middle" fill="#4a4a4a">10</text>
<text x="252.7" y="762" font-size="4.7" text-anchor="end" fill="#4a4a4a">Q [l/s]</text>
<text transform="translate(283.6 763.2) rotate(-90)" font-size="4.6" fill="#4a4a4a">GRS_H_CH</text>
<path d="M84.7 599.51 C85.01 599.89 85.96 601 86.58 601.81 C87.21 602.62 87.84 603.47 88.47 604.36 C89.09 605.26 89.72 606.19 90.35 607.16 C90.98 608.13 91.6 609.14 92.23 610.19 C92.86 611.23 93.49 612.31 94.11 613.42 C94.74 614.54 95.37 615.68 96 616.86 C96.62 618.03 97.25 619.24 97.88 620.47 C98.51 621.7 99.13 622.96 99.76 624.25 C100.39 625.53 101.02 626.84 101.64 628.18 C102.27 629.51 102.9 630.86 103.53 632.24 C104.16 633.61 104.78 635.01 105.41 636.42 C106.04 637.83 106.67 639.26 107.29 640.7 C107.92 642.14 108.55 643.6 109.18 645.07 C109.8 646.54 110.43 648.03 111.06 649.52 C111.69 651.01 112.31 652.51 112.94 654.02 C113.57 655.53 114.2 657.04 114.82 658.56 C115.45 660.08 116.08 661.61 116.71 663.13 C117.33 664.66 117.96 666.19 118.59 667.71 C119.22 669.24 119.84 670.77 120.47 672.29 C121.1 673.81 121.73 675.33 122.36 676.84 C122.98 678.36 123.61 679.87 124.24 681.36 C124.87 682.86 125.49 684.36 126.12 685.83 C126.75 687.31 127.38 688.78 128 690.24 C128.63 691.69 129.26 693.13 129.89 694.56 C130.51 695.98 131.14 697.39 131.77 698.78 C132.4 700.17 133.02 701.54 133.65 702.89 C134.28 704.24 134.91 705.57 135.53 706.88 C136.16 708.18 136.79 709.46 137.42 710.72 C138.04 711.97 138.99 713.78 139.3 714.4 M84.7 565.13 C85.11 565.48 86.34 566.44 87.16 567.22 C87.98 568 88.8 568.87 89.62 569.81 C90.44 570.76 91.27 571.78 92.09 572.88 C92.91 573.98 93.73 575.16 94.55 576.4 C95.37 577.64 96.19 578.96 97.01 580.34 C97.83 581.71 98.65 583.16 99.47 584.65 C100.29 586.15 101.11 587.72 101.93 589.33 C102.76 590.94 103.58 592.61 104.4 594.33 C105.22 596.04 106.04 597.81 106.86 599.62 C107.68 601.43 108.5 603.29 109.32 605.18 C110.14 607.07 110.96 609.01 111.78 610.97 C112.6 612.93 113.42 614.94 114.24 616.96 C115.07 618.99 115.89 621.05 116.71 623.13 C117.53 625.21 118.35 627.32 119.17 629.44 C119.99 631.56 120.81 633.71 121.63 635.86 C122.45 638.02 123.27 640.19 124.09 642.37 C124.91 644.54 125.73 646.73 126.56 648.92 C127.38 651.11 128.2 653.31 129.02 655.5 C129.84 657.69 130.66 659.88 131.48 662.06 C132.3 664.24 133.12 666.42 133.94 668.59 C134.76 670.75 135.58 672.91 136.4 675.04 C137.22 677.18 138.04 679.3 138.87 681.4 C139.69 683.5 140.51 685.58 141.33 687.62 C142.15 689.67 142.97 691.7 143.79 693.69 C144.61 695.68 145.43 697.64 146.25 699.56 C147.07 701.48 147.89 703.37 148.71 705.21 C149.53 707.05 150.36 708.85 151.18 710.6 C152 712.36 152.82 714.07 153.64 715.72 C154.46 717.37 155.69 719.72 156.1 720.52 M84.7 549.39 C85.18 549.57 86.63 549.98 87.59 550.43 C88.55 550.87 89.52 551.42 90.48 552.06 C91.44 552.71 92.4 553.45 93.37 554.27 C94.33 555.1 95.29 556.02 96.26 557.02 C97.22 558.02 98.18 559.12 99.15 560.29 C100.11 561.46 101.07 562.71 102.04 564.04 C103 565.36 103.96 566.77 104.93 568.24 C105.89 569.72 106.85 571.27 107.81 572.88 C108.78 574.49 109.74 576.18 110.7 577.92 C111.67 579.66 112.63 581.46 113.59 583.32 C114.56 585.18 115.52 587.11 116.48 589.07 C117.45 591.04 118.41 593.07 119.37 595.14 C120.33 597.21 121.3 599.33 122.26 601.49 C123.22 603.65 124.19 605.86 125.15 608.1 C126.11 610.34 127.08 612.62 128.04 614.93 C129 617.25 129.97 619.6 130.93 621.97 C131.89 624.34 132.86 626.75 133.82 629.18 C134.78 631.6 135.74 634.06 136.71 636.53 C137.67 639 138.63 641.49 139.6 643.99 C140.56 646.5 141.52 649.02 142.49 651.55 C143.45 654.07 144.41 656.61 145.38 659.15 C146.34 661.7 147.3 664.25 148.26 666.79 C149.23 669.34 150.19 671.89 151.15 674.43 C152.12 676.97 153.08 679.51 154.04 682.04 C155.01 684.56 155.97 687.09 156.93 689.59 C157.9 692.09 158.86 694.59 159.82 697.06 C160.79 699.53 161.75 701.98 162.71 704.41 C163.67 706.83 164.64 709.24 165.6 711.62 C166.56 713.99 168.01 717.48 168.49 718.66 M84.7 543.43 C85.28 543.75 87.01 544.65 88.16 545.35 C89.32 546.05 90.47 546.81 91.62 547.63 C92.78 548.45 93.93 549.34 95.08 550.28 C96.24 551.22 97.39 552.22 98.55 553.28 C99.7 554.34 100.85 555.46 102.01 556.63 C103.16 557.8 104.31 559.04 105.47 560.32 C106.62 561.61 107.78 562.95 108.93 564.35 C110.08 565.75 111.24 567.2 112.39 568.71 C113.54 570.21 114.7 571.77 115.85 573.39 C117.01 575 118.16 576.66 119.31 578.38 C120.47 580.09 121.62 581.86 122.78 583.68 C123.93 585.5 125.08 587.36 126.24 589.28 C127.39 591.2 128.54 593.16 129.7 595.18 C130.85 597.19 132.01 599.25 133.16 601.36 C134.31 603.47 135.47 605.63 136.62 607.83 C137.77 610.03 138.93 612.28 140.08 614.57 C141.24 616.86 142.39 619.2 143.54 621.58 C144.7 623.95 145.85 626.38 147 628.84 C148.16 631.31 149.31 633.82 150.47 636.36 C151.62 638.91 152.77 641.5 153.93 644.13 C155.08 646.76 156.24 649.43 157.39 652.14 C158.54 654.85 159.7 657.6 160.85 660.38 C162 663.17 163.16 665.99 164.31 668.85 C165.47 671.71 166.62 674.61 167.77 677.54 C168.93 680.47 170.08 683.44 171.23 686.45 C172.39 689.45 173.54 692.48 174.7 695.55 C175.85 698.62 177 701.73 178.16 704.86 C179.31 708 180.46 711.17 181.62 714.36 C182.77 717.56 184.5 722.44 185.08 724.05" stroke="#111" stroke-width="0.9" fill="none"/>
<path d="M84.7 599.49 C85.23 599.97 86.82 601.38 87.89 602.37 C88.95 603.37 90.01 604.4 91.07 605.47 C92.13 606.53 93.2 607.63 94.26 608.76 C95.32 609.89 96.38 611.05 97.44 612.23 C98.51 613.42 99.57 614.64 100.63 615.88 C101.69 617.12 102.76 618.39 103.82 619.68 C104.88 620.97 105.94 622.29 107 623.63 C108.07 624.96 109.13 626.32 110.19 627.7 C111.25 629.08 112.31 630.48 113.38 631.89 C114.44 633.31 115.5 634.74 116.56 636.18 C117.62 637.63 118.69 639.09 119.75 640.56 C120.81 642.04 121.87 643.52 122.93 645.02 C124 646.51 125.06 648.02 126.12 649.53 C127.18 651.04 128.24 652.57 129.31 654.09 C130.37 655.62 131.43 657.15 132.49 658.69 C133.56 660.22 134.62 661.76 135.68 663.3 C136.74 664.84 137.8 666.38 138.87 667.92 C139.93 669.46 140.99 671 142.05 672.53 C143.11 674.06 144.18 675.6 145.24 677.12 C146.3 678.64 147.36 680.16 148.42 681.67 C149.49 683.18 150.55 684.69 151.61 686.18 C152.67 687.67 153.73 689.15 154.8 690.62 C155.86 692.08 156.92 693.54 157.98 694.98 C159.04 696.42 160.11 697.85 161.17 699.25 C162.23 700.66 163.29 702.05 164.36 703.42 C165.42 704.79 166.48 706.15 167.54 707.48 C168.6 708.8 169.67 710.11 170.73 711.39 C171.79 712.68 172.85 713.94 173.91 715.17 C174.98 716.4 176.57 718.18 177.1 718.78 M84.7 565.14 C85.35 565.46 87.32 566.31 88.62 567.03 C89.93 567.75 91.24 568.55 92.55 569.44 C93.86 570.32 95.17 571.29 96.47 572.33 C97.78 573.37 99.09 574.49 100.4 575.68 C101.71 576.87 103.02 578.13 104.32 579.46 C105.63 580.78 106.94 582.18 108.25 583.63 C109.56 585.08 110.87 586.6 112.17 588.17 C113.48 589.74 114.79 591.37 116.1 593.04 C117.41 594.72 118.72 596.45 120.02 598.22 C121.33 599.99 122.64 601.81 123.95 603.67 C125.26 605.53 126.56 607.43 127.87 609.37 C129.18 611.3 130.49 613.27 131.8 615.27 C133.11 617.27 134.41 619.31 135.72 621.36 C137.03 623.42 138.34 625.5 139.65 627.6 C140.96 629.7 142.26 631.83 143.57 633.96 C144.88 636.1 146.19 638.25 147.5 640.42 C148.81 642.58 150.11 644.75 151.42 646.93 C152.73 649.1 154.04 651.29 155.35 653.47 C156.66 655.65 157.96 657.83 159.27 660.01 C160.58 662.18 161.89 664.35 163.2 666.51 C164.5 668.67 165.81 670.82 167.12 672.96 C168.43 675.09 169.74 677.21 171.05 679.31 C172.35 681.4 173.66 683.48 174.97 685.53 C176.28 687.58 177.59 689.61 178.9 691.61 C180.2 693.6 181.51 695.57 182.82 697.49 C184.13 699.42 185.44 701.32 186.75 703.17 C188.05 705.02 189.36 706.83 190.67 708.59 C191.98 710.35 193.29 712.08 194.6 713.74 C195.9 715.41 197.87 717.78 198.52 718.58 M84.7 549.34 C85.5 549.6 87.89 550.29 89.48 550.9 C91.07 551.5 92.67 552.19 94.26 552.95 C95.85 553.72 97.44 554.57 99.04 555.49 C100.63 556.42 102.22 557.42 103.82 558.5 C105.41 559.57 107 560.73 108.6 561.94 C110.19 563.16 111.78 564.46 113.38 565.81 C114.97 567.17 116.56 568.59 118.16 570.08 C119.75 571.56 121.34 573.12 122.93 574.72 C124.53 576.33 126.12 578 127.71 579.73 C129.31 581.45 130.9 583.23 132.49 585.07 C134.09 586.9 135.68 588.79 137.27 590.72 C138.87 592.66 140.46 594.65 142.05 596.68 C143.64 598.71 145.24 600.78 146.83 602.9 C148.42 605.02 150.02 607.18 151.61 609.38 C153.2 611.58 154.8 613.82 156.39 616.09 C157.98 618.37 159.58 620.68 161.17 623.02 C162.76 625.36 164.36 627.73 165.95 630.13 C167.54 632.53 169.13 634.96 170.73 637.41 C172.32 639.87 173.91 642.35 175.51 644.85 C177.1 647.35 178.69 649.87 180.29 652.41 C181.88 654.94 183.47 657.5 185.07 660.07 C186.66 662.64 188.25 665.23 189.84 667.83 C191.44 670.42 193.03 673.03 194.62 675.64 C196.22 678.26 197.81 680.88 199.4 683.5 C201 686.13 202.59 688.76 204.18 691.39 C205.78 694.02 207.37 696.65 208.96 699.27 C210.56 701.9 212.15 704.53 213.74 707.14 C215.33 709.76 216.93 712.37 218.52 714.97 C220.11 717.57 222.5 721.44 223.3 722.74 M84.7 543.41 C85.62 543.71 88.38 544.53 90.22 545.19 C92.06 545.85 93.9 546.58 95.74 547.37 C97.58 548.16 99.41 549.02 101.25 549.95 C103.09 550.87 104.93 551.86 106.77 552.91 C108.61 553.96 110.45 555.08 112.29 556.25 C114.13 557.42 115.97 558.66 117.81 559.95 C119.65 561.24 121.49 562.59 123.33 564 C125.16 565.4 127 566.87 128.84 568.38 C130.68 569.9 132.52 571.47 134.36 573.1 C136.2 574.72 138.04 576.4 139.88 578.13 C141.72 579.86 143.56 581.64 145.4 583.47 C147.24 585.3 149.08 587.18 150.92 589.1 C152.75 591.02 154.59 593 156.43 595.01 C158.27 597.03 160.11 599.09 161.95 601.2 C163.79 603.3 165.63 605.45 167.47 607.64 C169.31 609.83 171.15 612.07 172.99 614.34 C174.83 616.61 176.67 618.92 178.5 621.27 C180.34 623.61 182.18 626 184.02 628.42 C185.86 630.84 187.7 633.3 189.54 635.79 C191.38 638.28 193.22 640.81 195.06 643.36 C196.9 645.92 198.74 648.51 200.58 651.13 C202.42 653.74 204.26 656.39 206.09 659.07 C207.93 661.75 209.77 664.45 211.61 667.18 C213.45 669.91 215.29 672.67 217.13 675.45 C218.97 678.24 220.81 681.04 222.65 683.87 C224.49 686.7 226.33 689.55 228.17 692.42 C230.01 695.29 231.84 698.19 233.68 701.1 C235.52 704.01 237.36 706.94 239.2 709.89 C241.04 712.83 243.8 717.29 244.72 718.77" stroke="#111" stroke-width="1.35" fill="none"/>
<line x1="198.3" y1="568.6" x2="130.7" y2="599.1" stroke="#444" stroke-width="0.55"/>
<line x1="198.3" y1="568.6" x2="158.7" y2="599.9" stroke="#444" stroke-width="0.55"/>
<line x1="198.3" y1="585.6" x2="130.7" y2="616.9" stroke="#444" stroke-width="0.55"/>
<line x1="198.3" y1="585.6" x2="155.8" y2="619.1" stroke="#444" stroke-width="0.55"/>
<line x1="198.3" y1="602.9" x2="124" y2="638.3" stroke="#444" stroke-width="0.55"/>
<line x1="198.3" y1="602.9" x2="154.3" y2="638.3" stroke="#444" stroke-width="0.55"/>
<line x1="198.3" y1="621" x2="116.6" y2="660.4" stroke="#444" stroke-width="0.55"/>
<line x1="198.3" y1="621" x2="139.5" y2="669.3" stroke="#444" stroke-width="0.55"/>
<circle cx="202.3" cy="565.9" r="4.9" fill="#fff" stroke="#2a2a2a" stroke-width="0.85"/>
<text x="202.3" y="568.25" font-size="6.6" text-anchor="middle" fill="#222">4</text>
<circle cx="202.3" cy="582.9" r="4.9" fill="#fff" stroke="#2a2a2a" stroke-width="0.85"/>
<text x="202.3" y="585.25" font-size="6.6" text-anchor="middle" fill="#222">3</text>
<circle cx="202.3" cy="600.2" r="4.9" fill="#fff" stroke="#2a2a2a" stroke-width="0.85"/>
<text x="202.3" y="602.55" font-size="6.6" text-anchor="middle" fill="#222">2</text>
<circle cx="202.3" cy="618.3" r="4.9" fill="#fff" stroke="#2a2a2a" stroke-width="0.85"/>
<text x="202.3" y="620.65" font-size="6.6" text-anchor="middle" fill="#222">1</text>
<rect x="410.5" y="463.5" width="226" height="303" fill="none" stroke="#555" stroke-width="1"/>
<line x1="410.5" y1="495.5" x2="636.5" y2="495.5" stroke="#555" stroke-width="1"/>
<line x1="523.5" y1="463.5" x2="523.5" y2="495.5" stroke="#555" stroke-width="1"/>
<text x="463.5" y="481.5" font-size="6.3" text-anchor="middle" fill="#333">FLCG 50-5</text>
<text x="580.3" y="481.5" font-size="6.3" text-anchor="middle" fill="#333">ISO 9906 - Annex A</text>
<path d="M441.3 521.3V740.5M449.7 521.3V740.5M458.1 521.3V740.5M466.5 521.3V740.5M483.3 521.3V740.5M491.7 521.3V740.5M500.1 521.3V740.5M508.5 521.3V740.5M525.3 521.3V740.5M533.7 521.3V740.5M542.1 521.3V740.5M550.5 521.3V740.5M567.3 521.3V740.5M575.7 521.3V740.5M584.1 521.3V740.5M592.5 521.3V740.5M432.9 733.19H600.9M432.9 725.89H600.9M432.9 718.58H600.9M432.9 711.27H600.9M432.9 703.97H600.9M432.9 696.66H600.9M432.9 689.35H600.9M432.9 682.05H600.9M432.9 674.74H600.9M432.9 660.13H600.9M432.9 652.82H600.9M432.9 645.51H600.9M432.9 638.21H600.9M432.9 630.9H600.9M432.9 623.59H600.9M432.9 616.29H600.9M432.9 608.98H600.9M432.9 601.67H600.9M432.9 587.06H600.9M432.9 579.75H600.9M432.9 572.45H600.9M432.9 565.14H600.9M432.9 557.83H600.9M432.9 550.53H600.9M432.9 543.22H600.9M432.9 535.91H600.9M432.9 528.61H600.9" stroke="#8e8e8e" stroke-width="0.8" fill="none"/>
<path d="M474.9 521.3V740.5M516.9 521.3V740.5M558.9 521.3V740.5M432.9 667.43H600.9M432.9 594.37H600.9" stroke="#3a3a3a" stroke-width="0.9" fill="none"/>
<rect x="432.5" y="521.5" width="168" height="219" fill="none" stroke="#222" stroke-width="1"/>
<rect x="511.2" y="521.3" width="89.7" height="25.8" fill="#fff" stroke="#333" stroke-width="0.9"/>
<line x1="520.4" y1="530.5" x2="535.1" y2="530.5" stroke="#222" stroke-width="0.75"/>
<line x1="520.4" y1="538.5" x2="535.1" y2="538.5" stroke="#111" stroke-width="1.5"/>
<text x="541.1" y="531.9" font-size="5.6" fill="#333">Single pump running</text>
<text x="541.1" y="539.5" font-size="5.6" fill="#333">Twin pump running</text>
<line x1="432.9" y1="508.2" x2="600.9" y2="508.2" stroke="#333" stroke-width="0.9"/>
<path d="M432.9 508.2V506M444.36 508.2V506.8M455.81 508.2V506.8M467.27 508.2V506.8M478.72 508.2V506.8M490.18 508.2V506M501.64 508.2V506.8M513.09 508.2V506.8M524.55 508.2V506.8M536.01 508.2V506.8M547.46 508.2V506M558.92 508.2V506.8M570.37 508.2V506.8M581.83 508.2V506.8M593.29 508.2V506.8" stroke="#555" stroke-width="0.6" fill="none"/>
<text x="432.9" y="504.7" font-size="4.7" text-anchor="middle" fill="#4a4a4a">0</text>
<text x="490.18" y="504.7" font-size="4.7" text-anchor="middle" fill="#4a4a4a">50</text>
<text x="547.46" y="504.7" font-size="4.7" text-anchor="middle" fill="#4a4a4a">100</text>
<text x="617.2" y="504.7" font-size="4.7" text-anchor="end" fill="#4a4a4a">Q [Imp gpm]</text>
<path d="M432.9 521.3V519.7M442.44 521.3V519.7M451.98 521.3V519.7M461.52 521.3V519.7M471.06 521.3V519.7M480.6 521.3V519.7M490.14 521.3V519.7M499.67 521.3V519.7M509.21 521.3V519.7M518.75 521.3V519.7M528.29 521.3V519.7M537.83 521.3V519.7M547.37 521.3V519.7M556.91 521.3V519.7M566.45 521.3V519.7M575.99 521.3V519.7M585.53 521.3V519.7M595.07 521.3V519.7" stroke="#555" stroke-width="0.6" fill="none"/>
<text x="432.9" y="517.7" font-size="4.7" text-anchor="middle" fill="#4a4a4a">0</text>
<text x="480.6" y="517.7" font-size="4.7" text-anchor="middle" fill="#4a4a4a">50</text>
<text x="528.29" y="517.7" font-size="4.7" text-anchor="middle" fill="#4a4a4a">100</text>
<text x="575.99" y="517.7" font-size="4.7" text-anchor="middle" fill="#4a4a4a">150</text>
<text x="617.2" y="517.7" font-size="4.7" text-anchor="end" fill="#4a4a4a">Q [US gpm]</text>
<text x="430.4" y="705.77" font-size="4.7" text-anchor="end" fill="#4a4a4a">1</text>
<line x1="431.4" y1="703.97" x2="432.9" y2="703.97" stroke="#333" stroke-width="0.6"/>
<text x="430.4" y="669.23" font-size="4.7" text-anchor="end" fill="#4a4a4a">2</text>
<line x1="431.4" y1="667.43" x2="432.9" y2="667.43" stroke="#333" stroke-width="0.6"/>
<text x="430.4" y="632.7" font-size="4.7" text-anchor="end" fill="#4a4a4a">3</text>
<line x1="431.4" y1="630.9" x2="432.9" y2="630.9" stroke="#333" stroke-width="0.6"/>
<text x="430.4" y="596.17" font-size="4.7" text-anchor="end" fill="#4a4a4a">4</text>
<line x1="431.4" y1="594.37" x2="432.9" y2="594.37" stroke="#333" stroke-width="0.6"/>
<text x="430.4" y="559.63" font-size="4.7" text-anchor="end" fill="#4a4a4a">5</text>
<line x1="431.4" y1="557.83" x2="432.9" y2="557.83" stroke="#333" stroke-width="0.6"/>
<text x="430.4" y="523.1" font-size="4.7" text-anchor="end" fill="#4a4a4a">6</text>
<line x1="431.4" y1="521.3" x2="432.9" y2="521.3" stroke="#333" stroke-width="0.6"/>
<text transform="translate(421.1 539.5) rotate(-90)" font-size="4.7" text-anchor="middle" fill="#4a4a4a">H [m]</text>
<path d="M600.9 740.5H603.1M600.9 729.36H602.3M600.9 718.23H602.3M600.9 707.09H602.3M600.9 695.96H602.3M600.9 684.82H603.1M600.9 673.69H602.3M600.9 662.55H602.3M600.9 651.42H602.3M600.9 640.28H602.3M600.9 629.15H603.1M600.9 618.01H602.3M600.9 606.88H602.3M600.9 595.74H602.3M600.9 584.6H602.3M600.9 573.47H603.1M600.9 562.33H602.3M600.9 551.2H602.3M600.9 540.06H602.3M600.9 528.93H602.3" stroke="#444" stroke-width="0.6" fill="none"/>
<text x="605.2" y="742.3" font-size="4.7" fill="#4a4a4a">0</text>
<text x="605.2" y="686.62" font-size="4.7" fill="#4a4a4a">5</text>
<text x="605.2" y="630.95" font-size="4.7" fill="#4a4a4a">10</text>
<text x="605.2" y="575.27" font-size="4.7" fill="#4a4a4a">15</text>
<text transform="translate(612.4 537.6) rotate(-90)" font-size="4.7" text-anchor="middle" fill="#4a4a4a">H [ft]</text>
<line x1="616.4" y1="521.3" x2="616.4" y2="740.5" stroke="#333" stroke-width="0.9"/>
<path d="M616.4 740.5H617.9M616.4 721.87H617.9M616.4 703.25H617.9M616.4 684.62H617.9M616.4 665.99H617.9M616.4 647.37H617.9M616.4 628.74H617.9M616.4 610.11H617.9M616.4 591.49H617.9M616.4 572.86H617.9M616.4 554.23H617.9M616.4 535.61H617.9" stroke="#444" stroke-width="0.6" fill="none"/>
<text x="620.7" y="742.3" font-size="4.7" fill="#4a4a4a">0</text>
<text x="620.7" y="705.05" font-size="4.7" fill="#4a4a4a">10</text>
<text x="620.7" y="667.79" font-size="4.7" fill="#4a4a4a">20</text>
<text x="620.7" y="630.54" font-size="4.7" fill="#4a4a4a">30</text>
<text x="620.7" y="593.29" font-size="4.7" fill="#4a4a4a">40</text>
<text x="620.7" y="556.03" font-size="4.7" fill="#4a4a4a">50</text>
<text transform="translate(625.9 536.5) rotate(-90)" font-size="4.7" text-anchor="middle" fill="#4a4a4a">p [kPa]</text>
<text x="432.9" y="748.8" font-size="4.7" text-anchor="middle" fill="#4a4a4a">0</text>
<text x="474.9" y="748.8" font-size="4.7" text-anchor="middle" fill="#4a4a4a">10</text>
<text x="516.9" y="748.8" font-size="4.7" text-anchor="middle" fill="#4a4a4a">20</text>
<text x="558.9" y="748.8" font-size="4.7" text-anchor="middle" fill="#4a4a4a">30</text>
<text x="600.9" y="748.8" font-size="4.7" text-anchor="middle" fill="#4a4a4a">40</text>
<text x="595.4" y="748.8" font-size="4.7" text-anchor="end" fill="#4a4a4a">Q [m³/h]</text>
<text x="430.4" y="742.3" font-size="4.7" text-anchor="end" fill="#4a4a4a">0</text>
<line x1="432.9" y1="753.4" x2="600.9" y2="753.4" stroke="#333" stroke-width="0.9"/>
<path d="M432.9 753.4V755M440.46 753.4V755M448.02 753.4V755M455.58 753.4V755M463.14 753.4V755M470.7 753.4V755M478.26 753.4V755M485.82 753.4V755M493.38 753.4V755M500.94 753.4V755M508.5 753.4V755M516.06 753.4V755M523.62 753.4V755M531.18 753.4V755M538.74 753.4V755M546.3 753.4V755M553.86 753.4V755M561.42 753.4V755M568.98 753.4V755M576.54 753.4V755M584.1 753.4V755M591.66 753.4V755M599.22 753.4V755" stroke="#555" stroke-width="0.6" fill="none"/>
<text x="432.9" y="762" font-size="4.7" text-anchor="middle" fill="#4a4a4a">0</text>
<text x="463.14" y="762" font-size="4.7" text-anchor="middle" fill="#4a4a4a">2</text>
<text x="493.38" y="762" font-size="4.7" text-anchor="middle" fill="#4a4a4a">4</text>
<text x="523.62" y="762" font-size="4.7" text-anchor="middle" fill="#4a4a4a">6</text>
<text x="553.86" y="762" font-size="4.7" text-anchor="middle" fill="#4a4a4a">8</text>
<text x="584.1" y="762" font-size="4.7" text-anchor="middle" fill="#4a4a4a">10</text>
<text x="600.9" y="762" font-size="4.7" text-anchor="end" fill="#4a4a4a">Q [l/s]</text>
<text transform="translate(631.8 763.2) rotate(-90)" font-size="4.6" fill="#4a4a4a">GRS_H_CH</text>
<path d="M432.9 586.7 C433.24 587.02 434.24 587.93 434.91 588.64 C435.58 589.36 436.25 590.14 436.92 590.98 C437.59 591.82 438.26 592.73 438.93 593.69 C439.6 594.65 440.27 595.67 440.94 596.75 C441.61 597.82 442.28 598.96 442.95 600.14 C443.62 601.33 444.29 602.56 444.96 603.85 C445.63 605.14 446.3 606.47 446.97 607.85 C447.64 609.24 448.31 610.67 448.98 612.14 C449.65 613.61 450.32 615.12 450.99 616.67 C451.66 618.23 452.33 619.82 453 621.45 C453.67 623.08 454.34 624.75 455.01 626.45 C455.68 628.15 456.35 629.89 457.02 631.65 C457.69 633.41 458.36 635.21 459.03 637.03 C459.7 638.85 460.37 640.7 461.04 642.58 C461.71 644.45 462.38 646.35 463.05 648.26 C463.72 650.18 464.39 652.12 465.06 654.08 C465.73 656.03 466.4 658.01 467.07 660 C467.74 661.99 468.41 663.99 469.08 666.01 C469.75 668.02 470.42 670.05 471.09 672.08 C471.76 674.12 472.43 676.16 473.1 678.21 C473.77 680.26 474.44 682.31 475.11 684.37 C475.78 686.42 476.45 688.48 477.12 690.54 C477.79 692.59 478.46 694.65 479.13 696.7 C479.8 698.75 480.47 700.8 481.14 702.84 C481.82 704.87 482.49 706.91 483.16 708.93 C483.83 710.95 484.5 712.96 485.17 714.95 C485.84 716.95 486.51 718.93 487.18 720.9 C487.85 722.86 488.52 724.81 489.19 726.74 C489.86 728.67 490.86 731.51 491.2 732.46 M432.9 568.4 C433.29 568.64 434.45 569.31 435.23 569.87 C436 570.44 436.78 571.07 437.55 571.77 C438.33 572.46 439.1 573.23 439.88 574.06 C440.65 574.89 441.43 575.78 442.2 576.74 C442.98 577.7 443.75 578.72 444.53 579.8 C445.3 580.88 446.08 582.03 446.86 583.23 C447.63 584.43 448.41 585.69 449.18 587 C449.96 588.32 450.73 589.69 451.51 591.12 C452.28 592.54 453.06 594.03 453.83 595.56 C454.61 597.09 455.38 598.68 456.16 600.32 C456.93 601.95 457.71 603.64 458.49 605.38 C459.26 607.11 460.04 608.9 460.81 610.73 C461.59 612.56 462.36 614.43 463.14 616.35 C463.91 618.27 464.69 620.24 465.46 622.25 C466.24 624.25 467.01 626.3 467.79 628.39 C468.56 630.48 469.34 632.61 470.11 634.77 C470.89 636.94 471.67 639.14 472.44 641.38 C473.22 643.62 473.99 645.9 474.77 648.21 C475.54 650.52 476.32 652.87 477.09 655.24 C477.87 657.61 478.64 660.02 479.42 662.46 C480.19 664.9 480.97 667.36 481.74 669.86 C482.52 672.35 483.3 674.87 484.07 677.42 C484.85 679.96 485.62 682.54 486.4 685.13 C487.17 687.73 487.95 690.35 488.72 692.99 C489.5 695.63 490.27 698.29 491.05 700.97 C491.82 703.65 492.6 706.35 493.37 709.07 C494.15 711.79 494.92 714.52 495.7 717.27 C496.48 720.02 497.25 722.79 498.03 725.56 C498.8 728.34 499.96 732.54 500.35 733.94 M432.9 561.88 C433.33 562.1 434.64 562.7 435.51 563.19 C436.38 563.69 437.24 564.24 438.11 564.85 C438.98 565.45 439.85 566.12 440.72 566.84 C441.59 567.56 442.46 568.34 443.33 569.17 C444.2 570 445.07 570.89 445.93 571.84 C446.8 572.78 447.67 573.78 448.54 574.84 C449.41 575.9 450.28 577.01 451.15 578.18 C452.02 579.35 452.89 580.57 453.76 581.85 C454.62 583.13 455.49 584.46 456.36 585.85 C457.23 587.24 458.1 588.69 458.97 590.19 C459.84 591.69 460.71 593.24 461.58 594.85 C462.44 596.46 463.31 598.13 464.18 599.85 C465.05 601.57 465.92 603.34 466.79 605.17 C467.66 607 468.53 608.88 469.4 610.82 C470.27 612.76 471.13 614.75 472 616.79 C472.87 618.84 473.74 620.94 474.61 623.09 C475.48 625.24 476.35 627.45 477.22 629.71 C478.09 631.97 478.96 634.29 479.82 636.66 C480.69 639.02 481.56 641.45 482.43 643.92 C483.3 646.4 484.17 648.92 485.04 651.5 C485.91 654.09 486.78 656.72 487.64 659.41 C488.51 662.09 489.38 664.83 490.25 667.63 C491.12 670.42 491.99 673.26 492.86 676.16 C493.73 679.06 494.6 682.01 495.47 685.01 C496.33 688.01 497.2 691.07 498.07 694.17 C498.94 697.28 499.81 700.44 500.68 703.65 C501.55 706.86 502.42 710.12 503.29 713.44 C504.16 716.75 505.02 720.12 505.89 723.54 C506.76 726.95 508.07 732.21 508.5 733.94 M432.9 561.83 C433.36 562.02 434.73 562.54 435.64 562.97 C436.56 563.4 437.47 563.89 438.39 564.43 C439.3 564.97 440.22 565.57 441.13 566.22 C442.05 566.88 442.96 567.58 443.88 568.35 C444.79 569.11 445.71 569.93 446.62 570.8 C447.54 571.68 448.45 572.61 449.37 573.6 C450.28 574.59 451.2 575.63 452.11 576.73 C453.03 577.83 453.94 578.99 454.86 580.21 C455.77 581.43 456.69 582.7 457.6 584.03 C458.52 585.37 459.43 586.76 460.34 588.2 C461.26 589.65 462.17 591.16 463.09 592.73 C464 594.3 464.92 595.92 465.83 597.61 C466.75 599.29 467.66 601.04 468.58 602.84 C469.49 604.65 470.41 606.51 471.32 608.44 C472.24 610.36 473.15 612.35 474.07 614.4 C474.98 616.44 475.9 618.55 476.81 620.72 C477.73 622.89 478.64 625.12 479.56 627.41 C480.47 629.71 481.39 632.06 482.3 634.48 C483.22 636.9 484.13 639.38 485.05 641.92 C485.96 644.46 486.87 647.07 487.79 649.74 C488.7 652.41 489.62 655.14 490.53 657.93 C491.45 660.73 492.36 663.59 493.28 666.52 C494.19 669.44 495.11 672.43 496.02 675.48 C496.94 678.54 497.85 681.66 498.77 684.84 C499.68 688.02 500.6 691.27 501.51 694.59 C502.43 697.91 503.34 701.29 504.26 704.73 C505.17 708.18 506.09 711.69 507 715.28 C507.92 718.86 508.83 722.5 509.75 726.22 C510.66 729.93 512.03 735.67 512.49 737.56" stroke="#111" stroke-width="0.9" fill="none"/>
<path d="M432.9 586.75 C433.53 586.98 435.41 587.56 436.67 588.11 C437.92 588.66 439.18 589.31 440.43 590.04 C441.69 590.77 442.94 591.6 444.2 592.5 C445.45 593.4 446.71 594.4 447.96 595.46 C449.22 596.53 450.47 597.67 451.73 598.89 C452.98 600.1 454.24 601.4 455.49 602.75 C456.75 604.1 458 605.53 459.26 607.01 C460.51 608.49 461.77 610.04 463.02 611.64 C464.28 613.24 465.53 614.9 466.79 616.61 C468.04 618.31 469.3 620.07 470.56 621.87 C471.81 623.67 473.07 625.52 474.32 627.41 C475.58 629.29 476.83 631.22 478.09 633.17 C479.34 635.13 480.6 637.13 481.85 639.14 C483.11 641.16 484.36 643.22 485.62 645.28 C486.87 647.35 488.13 649.45 489.38 651.56 C490.64 653.67 491.89 655.8 493.15 657.93 C494.4 660.07 495.66 662.23 496.91 664.38 C498.17 666.54 499.42 668.7 500.68 670.86 C501.93 673.02 503.19 675.19 504.44 677.35 C505.7 679.5 506.96 681.66 508.21 683.8 C509.47 685.94 510.72 688.08 511.98 690.19 C513.23 692.31 514.49 694.41 515.74 696.49 C517 698.56 518.25 700.62 519.51 702.65 C520.76 704.68 522.02 706.68 523.27 708.65 C524.53 710.62 525.78 712.56 527.04 714.45 C528.29 716.35 529.55 718.21 530.8 720.03 C532.06 721.84 533.31 723.62 534.57 725.34 C535.82 727.06 537.08 728.74 538.33 730.36 C539.59 731.98 541.47 734.27 542.1 735.05 M432.9 568.45 C433.62 568.51 435.8 568.6 437.24 568.83 C438.69 569.07 440.14 569.42 441.59 569.87 C443.04 570.31 444.49 570.87 445.93 571.52 C447.38 572.16 448.83 572.92 450.28 573.75 C451.73 574.59 453.18 575.53 454.62 576.55 C456.07 577.57 457.52 578.69 458.97 579.88 C460.42 581.08 461.87 582.36 463.31 583.71 C464.76 585.07 466.21 586.51 467.66 588.02 C469.11 589.53 470.56 591.12 472 592.77 C473.45 594.43 474.9 596.15 476.35 597.94 C477.8 599.73 479.24 601.58 480.69 603.5 C482.14 605.41 483.59 607.39 485.04 609.41 C486.49 611.44 487.93 613.53 489.38 615.66 C490.83 617.79 492.28 619.98 493.73 622.21 C495.18 624.44 496.62 626.72 498.07 629.03 C499.52 631.35 500.97 633.71 502.42 636.1 C503.87 638.49 505.31 640.92 506.76 643.38 C508.21 645.84 509.66 648.34 511.11 650.85 C512.56 653.37 514 655.92 515.45 658.48 C516.9 661.05 518.35 663.64 519.8 666.24 C521.24 668.85 522.69 671.47 524.14 674.1 C525.59 676.74 527.04 679.39 528.49 682.04 C529.93 684.69 531.38 687.36 532.83 690.02 C534.28 692.68 535.73 695.35 537.18 698.02 C538.62 700.68 540.07 703.34 541.52 706 C542.97 708.65 544.42 711.3 545.87 713.94 C547.31 716.57 548.76 719.2 550.21 721.81 C551.66 724.42 553.11 727.01 554.56 729.58 C556 732.15 558.18 735.95 558.9 737.23 M432.9 561.84 C433.7 562.01 436.08 562.5 437.67 562.89 C439.26 563.29 440.85 563.72 442.44 564.2 C444.03 564.68 445.63 565.21 447.22 565.78 C448.81 566.35 450.4 566.96 451.99 567.63 C453.58 568.29 455.17 569 456.76 569.76 C458.35 570.52 459.94 571.33 461.53 572.19 C463.12 573.05 464.71 573.96 466.3 574.93 C467.9 575.89 469.49 576.91 471.08 577.98 C472.67 579.05 474.26 580.18 475.85 581.36 C477.44 582.54 479.03 583.78 480.62 585.08 C482.21 586.38 483.8 587.73 485.39 589.15 C486.98 590.57 488.57 592.04 490.16 593.58 C491.76 595.12 493.35 596.71 494.94 598.38 C496.53 600.04 498.12 601.77 499.71 603.56 C501.3 605.35 502.89 607.21 504.48 609.13 C506.07 611.05 507.66 613.04 509.25 615.1 C510.84 617.17 512.43 619.29 514.03 621.49 C515.62 623.69 517.21 625.96 518.8 628.31 C520.39 630.65 521.98 633.06 523.57 635.55 C525.16 638.04 526.75 640.61 528.34 643.25 C529.93 645.89 531.52 648.6 533.11 651.4 C534.7 654.19 536.29 657.06 537.89 660.01 C539.48 662.96 541.07 665.99 542.66 669.11 C544.25 672.22 545.84 675.41 547.43 678.69 C549.02 681.96 550.61 685.32 552.2 688.77 C553.79 692.21 555.38 695.74 556.97 699.36 C558.56 702.98 560.16 706.68 561.75 710.47 C563.34 714.26 564.93 718.14 566.52 722.11 C568.11 726.08 570.49 732.26 571.29 734.29 M432.9 561.83 C433.72 561.94 436.18 562.21 437.82 562.47 C439.47 562.72 441.11 563.02 442.75 563.37 C444.39 563.72 446.03 564.12 447.67 564.57 C449.31 565.01 450.96 565.51 452.6 566.06 C454.24 566.6 455.88 567.2 457.52 567.85 C459.16 568.51 460.8 569.21 462.44 569.98 C464.09 570.74 465.73 571.56 467.37 572.43 C469.01 573.31 470.65 574.24 472.29 575.24 C473.93 576.23 475.58 577.29 477.22 578.4 C478.86 579.52 480.5 580.7 482.14 581.94 C483.78 583.18 485.42 584.49 487.07 585.86 C488.71 587.24 490.35 588.68 491.99 590.19 C493.63 591.7 495.27 593.27 496.91 594.92 C498.56 596.57 500.2 598.29 501.84 600.08 C503.48 601.87 505.12 603.73 506.76 605.67 C508.4 607.61 510.04 609.62 511.69 611.71 C513.33 613.8 514.97 615.97 516.61 618.22 C518.25 620.46 519.89 622.79 521.53 625.19 C523.18 627.6 524.82 630.09 526.46 632.66 C528.1 635.23 529.74 637.88 531.38 640.62 C533.02 643.36 534.67 646.18 536.31 649.1 C537.95 652.01 539.59 655.01 541.23 658.1 C542.87 661.19 544.51 664.36 546.16 667.63 C547.8 670.91 549.44 674.27 551.08 677.72 C552.72 681.18 554.36 684.73 556 688.37 C557.64 692.02 559.29 695.76 560.93 699.6 C562.57 703.44 564.21 707.37 565.85 711.41 C567.49 715.45 569.13 719.58 570.78 723.82 C572.42 728.06 574.88 734.68 575.7 736.85" stroke="#111" stroke-width="1.35" fill="none"/>
<line x1="567.3" y1="626.2" x2="491.6" y2="659.9" stroke="#444" stroke-width="0.55"/>
<line x1="567.3" y1="626.2" x2="519" y2="646.6" stroke="#444" stroke-width="0.55"/>
<line x1="567.3" y1="643.1" x2="495.1" y2="676.7" stroke="#444" stroke-width="0.55"/>
<line x1="567.3" y1="643.1" x2="535.9" y2="661.7" stroke="#444" stroke-width="0.55"/>
<line x1="567.3" y1="660.8" x2="489.8" y2="698" stroke="#444" stroke-width="0.55"/>
<line x1="567.3" y1="660.8" x2="525.3" y2="690.9" stroke="#444" stroke-width="0.55"/>
<line x1="567.3" y1="678.5" x2="486.3" y2="717.5" stroke="#444" stroke-width="0.55"/>
<line x1="567.3" y1="678.5" x2="528.8" y2="712.2" stroke="#444" stroke-width="0.55"/>
<circle cx="571.3" cy="623.5" r="4.9" fill="#fff" stroke="#2a2a2a" stroke-width="0.85"/>
<text x="571.3" y="625.85" font-size="6.6" text-anchor="middle" fill="#222">4</text>
<circle cx="571.3" cy="640.4" r="4.9" fill="#fff" stroke="#2a2a2a" stroke-width="0.85"/>
<text x="571.3" y="642.75" font-size="6.6" text-anchor="middle" fill="#222">3</text>
<circle cx="571.3" cy="658.1" r="4.9" fill="#fff" stroke="#2a2a2a" stroke-width="0.85"/>
<text x="571.3" y="660.45" font-size="6.6" text-anchor="middle" fill="#222">2</text>
<circle cx="571.3" cy="675.8" r="4.9" fill="#fff" stroke="#2a2a2a" stroke-width="0.85"/>
<text x="571.3" y="678.15" font-size="6.6" text-anchor="middle" fill="#222">1</text>
</svg>
</body></html>
